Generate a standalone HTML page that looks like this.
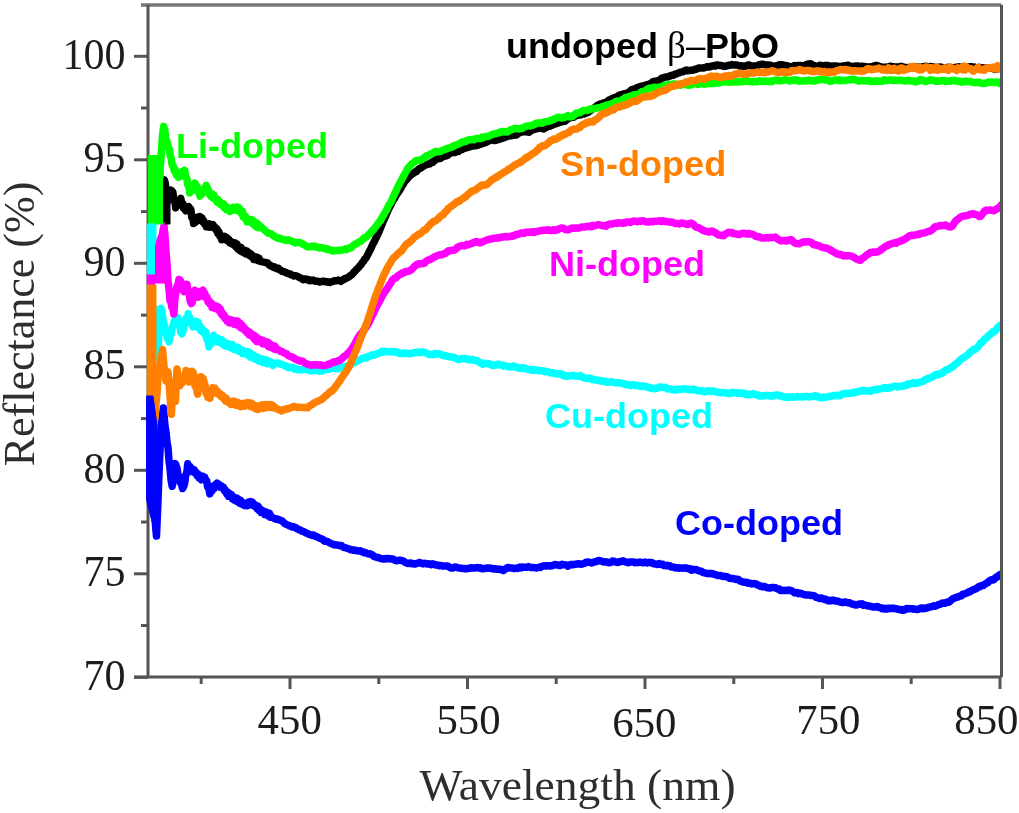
<!DOCTYPE html>
<html><head><meta charset="utf-8"><style>
html,body{margin:0;padding:0;background:#fff;}
svg{display:block;filter:blur(0.45px);}
.ser{font-family:"Liberation Serif",serif;fill:#1c1c1c;}
.lab{font-family:"Liberation Sans",sans-serif;font-weight:bold;}
</style></head><body>
<svg width="1019" height="813" viewBox="0 0 1019 813">
<rect width="1019" height="813" fill="#fff"/>
<defs><clipPath id="pc"><rect x="148" y="5" width="852" height="672"/></clipPath><clipPath id="pc2"><rect x="146" y="5" width="30" height="672"/></clipPath></defs>
<g fill="none" stroke-width="7.5" stroke-linejoin="round" stroke-linecap="round" clip-path="url(#pc)">
<path d="M150.0 451.9 L150.9 461.2 L151.8 476.0 L152.7 485.0 L153.6 499.7 L154.5 509.0 L155.5 525.3 L156.5 536.1 L158.0 500.8 L159.0 473.6 L160.0 450.7 L161.5 418.3 L162.4 415.8 L163.4 408.0 L165.0 426.0 L166.0 432.1 L167.0 442.2 L168.0 447.5 L169.0 460.7 L170.0 468.1 L171.1 480.3 L172.2 486.2 L173.2 481.3 L174.3 469.9 L175.3 463.6 L177.0 468.2 L178.2 475.7 L179.5 477.1 L180.5 482.9 L181.5 484.3 L182.6 488.5 L183.7 486.5 L184.7 483.1 L185.8 475.0 L186.8 472.4 L187.8 463.7 L188.9 467.6 L189.9 466.4 L191.0 471.4 L192.0 468.7 L193.1 472.0 L194.1 469.7 L195.1 472.7 L196.1 472.4 L197.0 475.6 L198.0 474.0 L199.1 478.1 L200.3 476.6 L201.4 479.8 L202.4 476.2 L203.5 479.4 L204.6 477.1 L205.6 479.8 L206.7 480.8 L207.7 487.2 L208.8 488.2 L209.8 493.9 L210.9 490.0 L211.9 491.0 L213.0 486.2 L214.0 488.6 L215.1 484.9 L216.1 486.7 L217.1 483.2 L218.1 486.1 L219.2 484.6 L220.2 487.2 L221.3 485.9 L222.3 487.9 L223.4 487.4 L224.4 490.5 L225.4 490.1 L226.5 493.8 L227.6 492.0 L228.6 496.3 L229.5 493.4 L230.4 496.5 L231.4 494.6 L232.3 498.6 L233.2 496.6 L234.1 499.9 L235.1 497.8 L236.0 500.8 L236.9 498.0 L237.8 501.7 L238.8 499.4 L239.7 503.0 L240.6 500.2 L241.6 503.9 L242.5 502.2 L243.4 504.9 L244.4 503.7 L245.3 505.7 L246.4 503.7 L247.4 505.6 L248.4 502.0 L249.5 505.0 L250.6 501.5 L251.6 504.4 L252.5 502.2 L253.5 505.4 L254.4 504.3 L255.4 506.7 L256.3 505.4 L257.3 508.9 L258.2 506.2 L259.2 510.3 L260.1 509.0 L261.1 512.3 L262.0 510.1 L262.9 512.6 L263.9 511.4 L264.8 514.4 L265.7 511.8 L266.7 514.5 L267.6 513.0 L268.5 516.2 L269.5 513.2 L270.4 517.3 L270.4 515.8 L271.6 516.8 L272.8 517.7 L274.0 518.5 L275.2 518.7 L276.4 519.2 L277.6 519.0 L278.8 519.8 L280.0 519.9 L281.2 520.6 L282.4 521.2 L283.6 522.5 L284.8 523.4 L286.0 524.3 L287.2 524.7 L288.4 525.5 L289.6 525.7 L290.8 526.5 L292.0 526.9 L293.2 526.5 L294.4 527.4 L295.6 527.4 L296.8 528.8 L298.0 529.0 L299.2 529.8 L300.4 529.9 L301.6 531.0 L302.8 531.3 L304.0 531.7 L305.2 532.6 L306.4 533.0 L307.6 533.6 L308.8 534.2 L310.0 534.6 L311.2 535.0 L312.4 535.4 L313.6 535.0 L314.8 536.0 L316.0 536.6 L317.2 536.8 L318.4 537.6 L319.6 538.3 L320.8 538.4 L322.0 539.1 L323.2 539.7 L324.4 541.2 L325.6 541.2 L326.8 541.2 L328.0 541.9 L329.2 542.6 L330.4 543.1 L331.6 543.9 L332.8 544.1 L334.0 544.8 L335.2 544.8 L336.4 545.1 L337.6 545.1 L338.8 545.4 L340.0 545.8 L341.2 545.5 L342.4 546.5 L343.6 547.3 L344.8 547.6 L346.0 547.9 L347.2 548.4 L348.4 548.6 L349.6 549.2 L350.8 549.8 L352.0 549.8 L353.2 550.3 L354.4 550.1 L355.6 550.2 L356.8 550.8 L358.0 550.8 L359.2 551.1 L360.4 550.8 L361.6 551.7 L362.8 551.7 L364.0 552.8 L365.2 552.6 L366.4 553.0 L367.6 553.6 L368.8 554.1 L370.0 553.7 L371.2 554.5 L372.4 554.9 L373.6 556.2 L374.8 556.7 L376.0 556.9 L377.2 557.6 L378.4 557.6 L379.6 558.0 L380.8 558.6 L382.0 558.7 L383.2 559.1 L384.4 558.6 L385.6 559.0 L386.8 558.5 L388.0 558.5 L389.2 558.8 L390.4 558.7 L391.6 559.1 L392.8 558.9 L394.0 559.5 L395.2 560.4 L396.4 560.8 L397.6 560.6 L398.8 560.3 L400.0 560.2 L401.2 560.4 L402.4 560.9 L403.6 561.2 L404.8 562.1 L406.0 562.9 L407.2 563.2 L408.4 563.6 L409.6 563.0 L410.8 563.1 L412.0 563.8 L413.2 563.5 L414.4 564.0 L415.6 563.9 L416.8 563.4 L418.0 563.3 L419.2 562.6 L420.4 562.7 L421.6 563.4 L422.8 563.9 L424.0 563.3 L425.2 563.4 L426.4 563.8 L427.6 564.1 L428.8 563.7 L430.0 564.3 L431.2 564.7 L432.4 563.8 L433.6 564.1 L434.8 564.7 L436.0 565.0 L437.2 564.9 L438.4 565.5 L439.6 565.7 L440.8 565.4 L442.0 565.9 L443.2 565.9 L444.4 566.0 L445.6 566.0 L446.8 565.9 L448.0 566.2 L449.2 567.0 L450.4 567.7 L451.6 568.1 L452.8 568.1 L454.0 567.4 L455.2 566.9 L456.4 567.1 L457.6 567.7 L458.8 567.9 L460.0 568.2 L461.2 568.2 L462.4 568.4 L463.6 568.4 L464.8 568.8 L466.0 568.6 L467.2 568.8 L468.4 568.4 L469.6 568.2 L470.8 567.7 L472.0 568.0 L473.2 567.9 L474.4 568.1 L475.6 567.7 L476.8 567.7 L478.0 567.6 L479.2 568.2 L480.4 567.7 L481.6 568.7 L482.8 568.7 L484.0 568.5 L485.2 568.4 L486.4 568.1 L487.6 568.0 L488.8 568.2 L490.0 568.1 L491.2 568.3 L492.4 568.8 L493.6 569.0 L494.8 568.7 L496.0 569.0 L497.2 569.3 L498.4 569.1 L499.6 569.5 L500.8 569.3 L502.0 569.6 L503.2 570.5 L504.4 569.5 L505.6 569.0 L506.8 567.9 L508.0 567.4 L509.2 567.7 L510.4 568.1 L511.6 568.0 L512.8 568.1 L514.0 568.7 L515.2 568.4 L516.4 568.0 L517.6 568.4 L518.8 568.0 L520.0 567.1 L521.2 567.9 L522.4 567.1 L523.6 567.2 L524.8 567.3 L526.0 567.3 L527.2 567.2 L528.4 566.6 L529.6 567.1 L530.8 567.5 L532.0 567.5 L533.2 567.4 L534.4 567.8 L535.6 567.8 L536.8 568.0 L538.0 567.4 L539.2 567.3 L540.4 567.6 L541.6 566.5 L542.8 566.1 L544.0 566.1 L545.2 565.8 L546.4 566.0 L547.6 565.7 L548.8 565.7 L550.0 566.0 L551.2 565.8 L552.4 565.7 L553.6 565.1 L554.8 564.5 L556.0 564.8 L557.2 565.0 L558.4 565.1 L559.6 565.6 L560.8 565.2 L562.0 564.3 L563.2 564.7 L564.4 564.7 L565.6 564.9 L566.8 565.3 L568.0 566.2 L569.2 565.2 L570.4 564.6 L571.6 564.6 L572.8 564.7 L574.0 564.5 L575.2 564.3 L576.4 564.1 L577.6 564.0 L578.8 563.7 L580.0 564.1 L581.2 564.2 L582.4 564.1 L583.6 563.4 L584.8 563.2 L586.0 562.3 L587.2 562.2 L588.4 562.0 L589.6 562.4 L590.8 562.8 L592.0 562.9 L593.2 562.3 L594.4 562.1 L595.6 561.4 L596.8 561.6 L598.0 560.7 L599.2 560.4 L600.4 560.9 L601.6 561.1 L602.8 561.8 L604.0 562.0 L605.2 561.8 L606.4 561.9 L607.6 562.2 L608.8 562.7 L610.0 562.6 L611.2 562.3 L612.4 561.1 L613.6 561.2 L614.8 561.5 L616.0 562.1 L617.2 562.4 L618.4 562.3 L619.6 561.5 L620.8 561.6 L622.0 561.1 L623.2 560.8 L624.4 561.6 L625.6 561.9 L626.8 562.3 L628.0 562.7 L629.2 562.2 L630.4 561.9 L631.6 561.9 L632.8 562.0 L634.0 562.0 L635.2 562.8 L636.4 562.4 L637.6 562.6 L638.8 562.5 L640.0 562.1 L641.2 562.4 L642.4 562.7 L643.6 562.7 L644.8 562.1 L646.0 562.5 L647.2 562.9 L648.4 562.4 L649.6 562.7 L650.8 562.4 L652.0 562.7 L653.2 563.6 L654.4 563.9 L655.6 563.9 L656.8 564.4 L658.0 564.3 L659.2 563.6 L660.4 564.4 L661.6 564.2 L662.8 564.3 L664.0 565.5 L665.2 565.6 L666.4 565.7 L667.6 565.3 L668.8 565.9 L670.0 565.8 L671.2 567.0 L672.4 566.9 L673.6 567.1 L674.8 567.8 L676.0 567.5 L677.2 568.1 L678.4 567.7 L679.6 568.3 L680.8 567.9 L682.0 568.1 L683.2 568.2 L684.4 567.9 L685.6 568.3 L686.8 567.9 L688.0 568.7 L689.2 569.0 L690.4 568.8 L691.6 570.2 L692.8 569.8 L694.0 569.4 L695.2 569.8 L696.4 569.6 L697.6 570.2 L698.8 570.7 L700.0 571.1 L701.2 571.2 L702.4 572.2 L703.6 572.6 L704.8 572.9 L706.0 573.3 L707.2 573.4 L708.4 573.7 L709.6 573.4 L710.8 573.7 L712.0 573.5 L713.2 573.9 L714.4 574.5 L715.6 574.6 L716.8 575.2 L718.0 575.5 L719.2 575.5 L720.4 575.6 L721.6 576.0 L722.8 576.2 L724.0 576.6 L725.2 576.4 L726.4 576.8 L727.6 577.0 L728.8 577.7 L730.0 578.4 L731.2 578.6 L732.4 578.4 L733.6 578.8 L734.8 579.0 L736.0 579.4 L737.2 579.3 L738.4 579.5 L739.6 580.4 L740.8 581.4 L742.0 581.6 L743.2 582.1 L744.4 582.2 L745.6 582.4 L746.8 582.3 L748.0 583.2 L749.2 583.0 L750.4 583.4 L751.6 583.9 L752.8 583.7 L754.0 583.6 L755.2 584.0 L756.4 584.1 L757.6 585.1 L758.8 585.3 L760.0 586.2 L761.2 586.2 L762.4 586.7 L763.6 586.5 L764.8 586.5 L766.0 587.2 L767.2 587.6 L768.4 588.0 L769.6 588.1 L770.8 587.7 L772.0 587.5 L773.2 587.5 L774.4 587.6 L775.6 587.8 L776.8 588.5 L778.0 589.0 L779.2 589.1 L780.4 590.4 L781.6 590.0 L782.8 590.5 L784.0 590.6 L785.2 590.5 L786.4 590.2 L787.6 590.6 L788.8 589.9 L790.0 590.4 L791.2 590.4 L792.4 591.3 L793.6 592.0 L794.8 592.9 L796.0 592.7 L797.2 592.6 L798.4 593.7 L799.6 593.1 L800.8 593.4 L802.0 593.8 L803.2 594.4 L804.4 594.6 L805.6 595.0 L806.8 595.1 L808.0 595.1 L809.2 594.9 L810.4 595.5 L811.6 595.5 L812.8 595.6 L814.0 595.7 L815.2 596.5 L816.4 597.4 L817.6 597.7 L818.8 598.1 L820.0 598.5 L821.2 598.0 L822.4 598.3 L823.6 598.9 L824.8 599.7 L826.0 599.3 L827.2 600.1 L828.4 600.9 L829.6 600.7 L830.8 600.2 L832.0 600.7 L833.2 600.1 L834.4 600.7 L835.6 601.0 L836.8 600.9 L838.0 601.1 L839.2 601.9 L840.4 602.1 L841.6 602.4 L842.8 602.5 L844.0 602.3 L845.2 601.9 L846.4 602.4 L847.6 602.8 L848.8 602.7 L850.0 603.0 L851.2 603.7 L852.4 604.1 L853.6 604.3 L854.8 604.8 L856.0 605.1 L857.2 604.8 L858.4 604.3 L859.6 604.0 L860.8 604.1 L862.0 603.8 L863.2 605.1 L864.4 604.7 L865.6 605.3 L866.8 605.7 L868.0 605.8 L869.2 606.1 L870.4 606.2 L871.6 606.6 L872.8 607.0 L874.0 607.1 L875.2 606.7 L876.4 607.0 L877.6 606.6 L878.8 607.4 L880.0 607.8 L881.2 607.8 L882.4 608.8 L883.6 608.3 L884.8 609.0 L886.0 608.3 L887.2 609.0 L888.4 608.3 L889.6 608.6 L890.8 608.2 L892.0 608.5 L893.2 608.2 L894.4 608.5 L895.6 608.8 L896.8 608.7 L898.0 609.2 L899.2 609.6 L900.4 609.6 L901.6 610.2 L902.8 609.5 L904.0 610.2 L905.2 609.6 L906.4 608.6 L907.6 608.7 L908.8 608.6 L910.0 608.7 L911.2 608.8 L912.4 608.8 L913.6 609.2 L914.8 608.9 L916.0 609.4 L917.2 609.4 L918.4 609.3 L919.6 608.8 L920.8 608.1 L922.0 608.1 L923.2 608.8 L924.4 608.1 L925.6 608.3 L926.8 608.0 L928.0 607.5 L929.2 607.3 L930.4 606.9 L931.6 606.7 L932.8 606.3 L934.0 605.8 L935.2 606.2 L936.4 605.8 L937.6 605.0 L938.8 604.5 L940.0 604.3 L941.2 603.7 L942.4 602.9 L943.6 603.2 L944.8 603.3 L946.0 602.5 L947.2 602.1 L948.4 602.3 L949.6 601.7 L950.8 600.4 L952.0 599.4 L953.2 598.5 L954.4 598.2 L955.6 597.5 L956.8 597.3 L958.0 597.1 L959.2 596.2 L960.4 596.1 L961.6 595.7 L962.8 594.2 L964.0 594.2 L965.2 593.6 L966.4 593.1 L967.6 592.7 L968.8 591.8 L970.0 591.7 L971.2 590.8 L972.4 590.0 L973.6 589.8 L974.8 589.0 L976.0 588.8 L977.2 587.8 L978.4 586.8 L979.6 586.8 L980.8 585.8 L982.0 585.5 L983.2 585.5 L984.4 584.5 L985.6 583.9 L986.8 582.9 L988.0 582.6 L989.2 581.0 L990.4 580.3 L991.6 579.8 L992.8 580.1 L994.0 579.4 L995.2 578.1 L996.4 577.0 L997.6 576.9 L998.8 575.3 L1000.0 574.7" stroke="#0000ff"/>
<path d="M156.0 310.0 L156.8 356.8 L157.6 310.0 L158.4 350.4 L159.2 310.0 L161.0 308.4 L162.0 311.4 L163.0 320.1 L164.0 323.7 L165.0 331.7 L166.0 330.8 L167.0 337.6 L168.0 336.3 L169.0 341.7 L170.0 335.3 L171.0 334.5 L172.0 327.8 L173.0 325.8 L174.0 321.8 L175.0 322.2 L176.0 316.8 L177.0 317.2 L178.0 317.9 L178.9 325.0 L179.9 325.3 L180.8 332.1 L181.8 333.8 L182.9 331.9 L183.9 325.2 L185.0 323.8 L186.1 318.3 L187.1 319.3 L188.2 313.8 L189.2 319.2 L190.1 318.0 L191.1 323.2 L192.0 321.3 L193.0 326.9 L194.0 323.4 L195.0 325.4 L196.0 321.2 L197.0 323.4 L198.0 322.2 L199.0 328.0 L200.0 326.1 L201.0 330.7 L201.9 328.6 L202.9 332.1 L203.8 330.3 L204.8 334.5 L205.7 332.0 L206.8 339.0 L207.9 340.5 L209.0 346.9 L209.9 342.1 L210.9 344.0 L211.8 338.1 L212.8 339.0 L213.7 335.3 L214.8 338.3 L215.9 338.0 L217.0 341.4 L217.9 338.3 L218.9 342.3 L219.8 339.9 L220.8 342.0 L221.7 339.8 L222.8 344.1 L223.8 341.9 L224.9 345.8 L226.0 344.1 L227.1 346.2 L228.1 343.7 L229.2 347.1 L230.2 344.3 L231.3 346.9 L232.3 344.5 L233.2 348.9 L234.2 346.4 L235.1 349.4 L236.1 347.2 L237.1 349.8 L238.0 347.2 L239.0 351.3 L239.9 349.4 L240.9 352.0 L241.9 350.1 L242.9 353.7 L243.9 350.8 L244.9 353.7 L245.9 351.6 L246.9 354.0 L247.9 351.6 L248.9 355.7 L249.9 352.5 L250.9 357.2 L251.9 354.2 L252.9 357.9 L253.9 355.2 L254.9 358.8 L255.9 356.3 L256.9 359.6 L257.9 357.5 L258.9 361.1 L259.9 358.8 L261.0 360.7 L262.0 359.0 L263.0 362.5 L264.0 359.9 L265.0 362.2 L266.0 359.8 L267.0 363.6 L268.0 361.0 L268.9 363.3 L269.9 361.3 L270.9 363.9 L271.9 362.5 L272.9 365.4 L272.9 364.0 L274.1 363.6 L275.3 363.6 L276.5 363.3 L277.7 363.0 L278.9 363.5 L280.1 363.8 L281.3 364.4 L282.5 364.9 L283.7 365.2 L284.9 365.8 L286.1 366.3 L287.3 366.9 L288.5 367.8 L289.7 367.3 L290.9 367.2 L292.1 367.6 L293.3 367.6 L294.5 369.1 L295.7 368.7 L296.9 369.0 L298.1 369.9 L299.3 369.6 L300.5 369.8 L301.7 369.7 L302.9 369.5 L304.1 369.3 L305.3 368.7 L306.5 369.3 L307.7 369.7 L308.9 370.4 L310.1 370.5 L311.3 370.8 L312.5 370.2 L313.7 370.5 L314.9 370.4 L316.1 369.8 L317.3 370.0 L318.5 370.5 L319.7 371.2 L320.9 370.6 L322.1 371.0 L323.3 369.9 L324.5 369.5 L325.7 369.4 L326.9 369.3 L328.1 369.3 L329.3 369.2 L330.5 368.3 L331.7 368.2 L332.9 368.2 L334.1 368.1 L335.3 368.6 L336.5 368.8 L337.7 368.8 L338.9 368.2 L340.1 367.8 L341.3 367.9 L342.5 367.1 L343.7 367.1 L344.9 366.9 L346.1 366.3 L347.3 366.2 L348.5 365.4 L349.7 365.4 L350.9 364.6 L352.1 363.5 L353.3 362.5 L354.5 362.1 L355.7 361.9 L356.9 361.1 L358.1 360.5 L359.3 360.0 L360.5 359.4 L361.7 358.6 L362.9 358.5 L364.1 357.9 L365.3 357.3 L366.5 358.0 L367.7 356.9 L368.9 356.4 L370.1 356.1 L371.3 355.1 L372.5 354.7 L373.7 355.2 L374.9 354.7 L376.1 354.2 L377.3 353.7 L378.5 353.4 L379.7 352.6 L380.9 352.6 L382.1 351.3 L383.3 351.9 L384.5 351.3 L385.7 351.3 L386.9 351.7 L388.1 351.7 L389.3 351.8 L390.5 351.9 L391.7 351.5 L392.9 351.6 L394.1 352.0 L395.3 351.6 L396.5 352.0 L397.7 352.5 L398.9 353.2 L400.1 353.3 L401.3 353.6 L402.5 353.0 L403.7 353.4 L404.9 353.3 L406.1 353.0 L407.3 353.6 L408.5 353.8 L409.7 353.8 L410.9 353.6 L412.1 353.1 L413.3 353.1 L414.5 352.6 L415.7 352.2 L416.9 352.2 L418.1 352.2 L419.3 352.7 L420.5 352.4 L421.7 351.7 L422.9 352.1 L424.1 352.3 L425.3 352.4 L426.5 353.2 L427.7 353.7 L428.9 354.5 L430.1 354.6 L431.3 354.6 L432.5 354.4 L433.7 354.4 L434.9 353.4 L436.1 354.2 L437.3 353.4 L438.5 353.8 L439.7 354.0 L440.9 354.6 L442.1 354.9 L443.3 355.7 L444.5 355.6 L445.7 355.5 L446.9 356.2 L448.1 356.4 L449.3 356.5 L450.5 357.0 L451.7 356.9 L452.9 357.2 L454.1 357.5 L455.3 358.2 L456.5 358.6 L457.7 359.4 L458.9 359.6 L460.1 359.1 L461.3 358.6 L462.5 358.8 L463.7 358.5 L464.9 358.5 L466.1 358.7 L467.3 359.5 L468.5 359.3 L469.7 359.9 L470.9 359.7 L472.1 359.3 L473.3 360.1 L474.5 360.6 L475.7 360.2 L476.9 360.7 L478.1 361.5 L479.3 362.1 L480.5 363.1 L481.7 363.1 L482.9 364.3 L484.1 363.4 L485.3 363.6 L486.5 363.6 L487.7 363.4 L488.9 363.6 L490.1 364.3 L491.3 364.8 L492.5 365.4 L493.7 365.0 L494.9 365.2 L496.1 364.8 L497.3 365.0 L498.5 364.1 L499.7 364.6 L500.9 364.9 L502.1 365.2 L503.3 365.9 L504.5 365.5 L505.7 365.9 L506.9 366.2 L508.1 366.7 L509.3 366.6 L510.5 367.1 L511.7 366.8 L512.9 366.1 L514.1 366.1 L515.3 367.1 L516.5 367.6 L517.7 367.4 L518.9 368.3 L520.1 368.1 L521.3 368.4 L522.5 367.7 L523.7 367.7 L524.9 368.3 L526.1 368.6 L527.3 369.4 L528.5 369.6 L529.7 369.5 L530.9 370.1 L532.1 369.6 L533.3 370.3 L534.5 370.0 L535.7 369.8 L536.9 370.3 L538.1 370.2 L539.3 370.7 L540.5 370.7 L541.7 370.8 L542.9 370.9 L544.1 371.0 L545.3 371.8 L546.5 371.4 L547.7 371.6 L548.9 372.1 L550.1 372.9 L551.3 372.7 L552.5 372.8 L553.7 373.0 L554.9 373.5 L556.1 373.6 L557.3 374.1 L558.5 373.7 L559.7 374.0 L560.9 373.7 L562.1 374.4 L563.3 375.7 L564.5 375.3 L565.7 375.7 L566.9 376.2 L568.1 375.7 L569.3 375.9 L570.5 375.7 L571.7 375.8 L572.9 375.2 L574.1 376.1 L575.3 375.9 L576.5 376.1 L577.7 376.2 L578.9 376.1 L580.1 375.6 L581.3 376.7 L582.5 376.8 L583.7 377.9 L584.9 378.1 L586.1 378.2 L587.3 378.2 L588.5 378.3 L589.7 378.1 L590.9 378.5 L592.1 379.5 L593.3 379.3 L594.5 379.8 L595.7 380.0 L596.9 380.2 L598.1 380.1 L599.3 380.8 L600.5 380.8 L601.7 381.0 L602.9 381.0 L604.1 381.3 L605.3 381.4 L606.5 382.2 L607.7 382.3 L608.9 382.2 L610.1 381.8 L611.3 381.8 L612.5 382.0 L613.7 382.3 L614.9 382.7 L616.1 382.7 L617.3 382.8 L618.5 382.8 L619.7 382.8 L620.9 383.2 L622.1 383.4 L623.3 383.8 L624.5 383.8 L625.7 384.5 L626.9 384.8 L628.1 384.8 L629.3 385.0 L630.5 385.6 L631.7 384.9 L632.9 384.8 L634.1 384.7 L635.3 385.4 L636.5 385.4 L637.7 385.6 L638.9 385.6 L640.1 386.4 L641.3 386.2 L642.5 385.8 L643.7 386.6 L644.9 386.3 L646.1 386.8 L647.3 386.8 L648.5 387.4 L649.7 387.5 L650.9 388.2 L652.1 388.2 L653.3 388.6 L654.5 388.7 L655.7 388.2 L656.9 388.2 L658.1 387.7 L659.3 387.1 L660.5 387.1 L661.7 387.2 L662.9 387.5 L664.1 387.6 L665.3 387.2 L666.5 388.3 L667.7 389.0 L668.9 388.7 L670.1 388.9 L671.3 389.5 L672.5 389.5 L673.7 389.9 L674.9 389.5 L676.1 390.0 L677.3 389.8 L678.5 389.1 L679.7 389.6 L680.9 389.2 L682.1 389.1 L683.3 389.0 L684.5 388.8 L685.7 388.9 L686.9 389.1 L688.1 389.4 L689.3 389.6 L690.5 389.8 L691.7 389.7 L692.9 389.5 L694.1 389.2 L695.3 389.9 L696.5 390.3 L697.7 390.7 L698.9 390.8 L700.1 390.8 L701.3 390.9 L702.5 390.7 L703.7 391.7 L704.9 391.9 L706.1 391.5 L707.3 391.0 L708.5 391.1 L709.7 390.7 L710.9 391.4 L712.1 391.0 L713.3 391.1 L714.5 391.5 L715.7 391.7 L716.9 392.2 L718.1 392.2 L719.3 392.5 L720.5 392.4 L721.7 392.9 L722.9 392.4 L724.1 392.4 L725.3 393.0 L726.5 392.9 L727.7 393.2 L728.9 393.4 L730.1 393.5 L731.3 393.0 L732.5 392.3 L733.7 392.9 L734.9 392.6 L736.1 392.8 L737.3 393.3 L738.5 393.0 L739.7 393.2 L740.9 393.1 L742.1 393.1 L743.3 393.2 L744.5 393.4 L745.7 394.4 L746.9 393.9 L748.1 394.8 L749.3 394.7 L750.5 394.3 L751.7 394.2 L752.9 393.6 L754.1 394.3 L755.3 394.6 L756.5 395.1 L757.7 394.8 L758.9 395.8 L760.1 396.1 L761.3 395.7 L762.5 396.0 L763.7 395.9 L764.9 395.3 L766.1 395.4 L767.3 395.6 L768.5 395.4 L769.7 395.7 L770.9 396.2 L772.1 395.8 L773.3 395.9 L774.5 395.7 L775.7 395.0 L776.9 394.9 L778.1 395.0 L779.3 395.7 L780.5 395.6 L781.7 396.2 L782.9 396.7 L784.1 396.7 L785.3 397.2 L786.5 397.2 L787.7 397.0 L788.9 397.4 L790.1 397.0 L791.3 397.1 L792.5 396.8 L793.7 397.3 L794.9 397.1 L796.1 396.9 L797.3 396.6 L798.5 396.7 L799.7 396.9 L800.9 396.7 L802.1 397.0 L803.3 396.6 L804.5 396.4 L805.7 396.4 L806.9 396.5 L808.1 396.9 L809.3 397.1 L810.5 396.4 L811.7 396.6 L812.9 396.4 L814.1 396.4 L815.3 395.6 L816.5 396.4 L817.7 396.2 L818.9 397.5 L820.1 397.4 L821.3 397.9 L822.5 397.7 L823.7 397.1 L824.9 397.3 L826.1 397.1 L827.3 396.7 L828.5 396.5 L829.7 396.5 L830.9 396.2 L832.1 396.0 L833.3 395.5 L834.5 395.6 L835.7 395.4 L836.9 395.4 L838.1 395.7 L839.3 395.3 L840.5 395.4 L841.7 394.3 L842.9 394.1 L844.1 393.3 L845.3 393.4 L846.5 393.3 L847.7 393.4 L848.9 393.3 L850.1 393.3 L851.3 393.3 L852.5 392.4 L853.7 392.8 L854.9 392.2 L856.1 391.9 L857.3 392.1 L858.5 391.9 L859.7 391.4 L860.9 390.7 L862.1 390.8 L863.3 390.3 L864.5 391.0 L865.7 390.7 L866.9 390.9 L868.1 390.9 L869.3 391.3 L870.5 391.3 L871.7 390.5 L872.9 390.2 L874.1 389.6 L875.3 390.0 L876.5 390.1 L877.7 389.2 L878.9 389.2 L880.1 388.9 L881.3 388.6 L882.5 388.2 L883.7 388.0 L884.9 387.5 L886.1 388.0 L887.3 388.3 L888.5 388.2 L889.7 387.3 L890.9 387.6 L892.1 387.0 L893.3 386.6 L894.5 386.1 L895.7 386.3 L896.9 386.7 L898.1 387.0 L899.3 386.2 L900.5 386.5 L901.7 386.4 L902.9 386.0 L904.1 385.9 L905.3 385.1 L906.5 385.2 L907.7 384.1 L908.9 384.2 L910.1 383.8 L911.3 383.6 L912.5 383.2 L913.7 382.5 L914.9 383.5 L916.1 383.2 L917.3 383.0 L918.5 382.6 L919.7 382.3 L920.9 381.9 L922.1 381.6 L923.3 381.3 L924.5 380.1 L925.7 379.3 L926.9 379.3 L928.1 378.3 L929.3 378.1 L930.5 377.6 L931.7 377.2 L932.9 376.6 L934.1 375.7 L935.3 374.9 L936.5 374.5 L937.7 374.3 L938.9 374.7 L940.1 373.5 L941.3 373.5 L942.5 372.9 L943.7 371.6 L944.9 370.8 L946.1 369.8 L947.3 369.6 L948.5 369.4 L949.7 368.3 L950.9 367.8 L952.1 366.9 L953.3 366.0 L954.5 365.2 L955.7 363.9 L956.9 363.5 L958.1 362.0 L959.3 360.8 L960.5 359.8 L961.7 358.8 L962.9 357.8 L964.1 357.3 L965.3 356.7 L966.5 355.6 L967.7 355.1 L968.9 354.0 L970.1 352.1 L971.3 351.4 L972.5 350.5 L973.7 349.3 L974.9 349.3 L976.1 348.7 L977.3 347.6 L978.5 345.9 L979.7 344.7 L980.9 342.8 L982.1 342.1 L983.3 340.9 L984.5 339.4 L985.7 338.3 L986.9 337.9 L988.1 335.9 L989.3 335.4 L990.5 334.0 L991.7 333.3 L992.9 331.7 L994.1 331.4 L995.3 330.8 L996.5 329.2 L997.7 327.7 L998.9 326.3 L1000.1 325.4" stroke="#00ffff"/>
<path d="M160.0 251.5 L161.0 241.9 L162.0 238.6 L163.0 230.5 L164.0 225.9 L165.0 236.2 L166.0 251.7 L167.0 264.1 L168.0 281.3 L169.0 288.4 L170.0 301.0 L170.9 301.3 L171.9 307.7 L172.9 308.0 L173.8 314.0 L174.9 298.9 L176.0 292.1 L177.0 286.0 L178.0 285.2 L179.0 279.5 L180.0 279.9 L181.0 282.0 L182.0 288.4 L183.0 290.3 L184.0 291.5 L185.0 288.0 L186.0 289.7 L187.0 284.4 L188.1 292.3 L189.2 294.4 L190.2 300.9 L191.3 303.6 L192.2 302.3 L193.2 297.3 L194.1 295.9 L195.0 290.2 L196.0 294.6 L197.0 293.0 L198.0 297.2 L199.0 296.8 L200.0 296.5 L201.0 291.4 L202.0 291.6 L202.9 290.1 L203.8 294.2 L204.8 293.3 L205.7 297.8 L206.8 296.9 L207.9 301.7 L209.0 300.6 L210.0 304.4 L211.0 302.8 L212.0 307.5 L212.9 304.6 L213.9 307.3 L214.8 305.5 L215.7 308.6 L216.6 306.1 L217.6 308.9 L218.5 307.1 L219.4 310.8 L220.3 308.9 L221.2 313.8 L222.1 312.5 L223.0 316.0 L224.0 315.0 L225.0 318.5 L226.1 317.6 L227.1 321.1 L228.1 319.8 L229.1 322.7 L230.0 319.5 L231.0 322.8 L231.9 320.1 L232.9 322.9 L233.9 321.2 L234.8 324.4 L235.8 320.8 L236.7 324.6 L237.7 321.1 L238.8 326.0 L239.8 322.9 L240.9 327.8 L242.0 324.9 L243.1 329.0 L244.1 327.4 L245.2 330.7 L246.2 329.9 L247.3 332.9 L248.3 331.2 L249.2 334.8 L250.2 332.7 L251.1 335.7 L252.1 334.1 L253.1 337.5 L254.0 335.3 L255.0 339.6 L255.9 336.6 L256.9 341.6 L257.9 338.4 L258.8 341.4 L259.8 339.2 L260.7 342.2 L261.7 340.0 L262.7 343.7 L263.6 340.5 L264.6 344.1 L265.5 342.0 L266.5 344.2 L267.4 342.0 L268.4 346.3 L269.4 343.3 L270.3 347.2 L271.2 344.8 L272.2 347.9 L273.1 345.5 L274.1 349.0 L275.1 346.3 L276.0 349.4 L276.0 348.9 L277.2 349.0 L278.4 349.9 L279.6 350.4 L280.8 351.5 L282.0 351.6 L283.2 352.3 L284.4 353.1 L285.6 353.6 L286.8 353.9 L288.0 355.4 L289.2 356.1 L290.4 356.4 L291.6 356.6 L292.8 357.7 L294.0 358.0 L295.2 359.0 L296.4 359.7 L297.6 360.0 L298.8 360.5 L300.0 361.0 L301.2 361.1 L302.4 361.0 L303.6 362.1 L304.8 362.9 L306.0 363.4 L307.2 364.2 L308.4 364.4 L309.6 364.7 L310.8 365.3 L312.0 365.0 L313.2 364.7 L314.4 365.0 L315.6 364.6 L316.8 365.0 L318.0 364.9 L319.2 364.8 L320.4 365.2 L321.6 365.0 L322.8 365.8 L324.0 365.4 L325.2 365.5 L326.4 365.1 L327.6 364.7 L328.8 363.9 L330.0 363.9 L331.2 363.2 L332.4 362.6 L333.6 361.8 L334.8 362.3 L336.0 361.6 L337.2 361.3 L338.4 360.6 L339.6 360.7 L340.8 359.5 L342.0 358.6 L343.2 357.3 L344.4 356.2 L345.6 355.7 L346.8 354.4 L348.0 353.2 L349.2 352.1 L350.4 350.7 L351.6 349.2 L352.8 347.1 L354.0 345.1 L355.2 343.1 L356.4 340.6 L357.6 338.4 L358.8 336.7 L360.0 334.7 L361.2 333.3 L362.4 332.1 L363.6 330.4 L364.8 328.8 L366.0 327.5 L367.2 325.5 L368.4 323.7 L369.6 321.1 L370.8 318.6 L372.0 315.9 L373.2 313.9 L374.4 311.2 L375.6 308.7 L376.8 306.1 L378.0 304.0 L379.2 301.7 L380.4 299.7 L381.6 297.2 L382.8 294.8 L384.0 293.2 L385.2 291.3 L386.4 289.7 L387.6 287.8 L388.8 286.0 L390.0 284.1 L391.2 282.1 L392.4 280.2 L393.6 279.0 L394.8 278.1 L396.0 278.0 L397.2 276.5 L398.4 275.6 L399.6 274.7 L400.8 274.1 L402.0 273.1 L403.2 273.3 L404.4 272.4 L405.6 271.4 L406.8 271.7 L408.0 271.4 L409.2 270.8 L410.4 270.4 L411.6 269.5 L412.8 268.2 L414.0 266.9 L415.2 265.9 L416.4 264.8 L417.6 264.3 L418.8 263.7 L420.0 263.9 L421.2 263.4 L422.4 263.7 L423.6 263.5 L424.8 262.8 L426.0 261.3 L427.2 260.7 L428.4 259.9 L429.6 259.7 L430.8 259.1 L432.0 258.4 L433.2 257.8 L434.4 256.8 L435.6 256.5 L436.8 255.8 L438.0 255.4 L439.2 255.0 L440.4 254.8 L441.6 254.7 L442.8 254.2 L444.0 253.7 L445.2 253.5 L446.4 252.3 L447.6 251.3 L448.8 250.7 L450.0 250.9 L451.2 250.3 L452.4 250.3 L453.6 250.3 L454.8 249.8 L456.0 249.0 L457.2 247.5 L458.4 247.2 L459.6 246.2 L460.8 246.1 L462.0 245.4 L463.2 245.6 L464.4 245.9 L465.6 245.4 L466.8 244.4 L468.0 244.9 L469.2 244.4 L470.4 243.9 L471.6 243.5 L472.8 242.8 L474.0 242.7 L475.2 241.9 L476.4 241.5 L477.6 241.9 L478.8 242.7 L480.0 242.7 L481.2 242.5 L482.4 241.6 L483.6 241.4 L484.8 241.0 L486.0 240.2 L487.2 239.8 L488.4 239.5 L489.6 239.1 L490.8 238.9 L492.0 238.9 L493.2 238.3 L494.4 238.3 L495.6 238.2 L496.8 238.1 L498.0 237.7 L499.2 237.9 L500.4 237.5 L501.6 236.9 L502.8 237.0 L504.0 236.9 L505.2 236.6 L506.4 236.6 L507.6 236.9 L508.8 236.5 L510.0 236.6 L511.2 236.1 L512.4 236.3 L513.6 235.6 L514.8 235.5 L516.0 234.4 L517.2 234.6 L518.4 234.0 L519.6 234.0 L520.8 232.9 L522.0 232.9 L523.2 233.4 L524.4 233.3 L525.6 232.2 L526.8 232.3 L528.0 232.1 L529.2 232.4 L530.4 232.2 L531.6 232.0 L532.8 231.8 L534.0 232.5 L535.2 231.8 L536.4 231.7 L537.6 231.3 L538.8 231.2 L540.0 230.9 L541.2 230.6 L542.4 230.5 L543.6 230.2 L544.8 230.2 L546.0 230.3 L547.2 229.9 L548.4 229.8 L549.6 230.5 L550.8 230.6 L552.0 230.3 L553.2 229.8 L554.4 230.5 L555.6 230.3 L556.8 229.6 L558.0 229.7 L559.2 228.7 L560.4 228.3 L561.6 228.0 L562.8 228.2 L564.0 228.4 L565.2 229.5 L566.4 229.5 L567.6 229.7 L568.8 229.5 L570.0 229.1 L571.2 228.2 L572.4 228.1 L573.6 228.2 L574.8 228.2 L576.0 227.9 L577.2 228.2 L578.4 228.1 L579.6 227.8 L580.8 227.4 L582.0 226.9 L583.2 227.0 L584.4 227.1 L585.6 226.8 L586.8 226.5 L588.0 226.6 L589.2 226.1 L590.4 226.5 L591.6 226.7 L592.8 225.3 L594.0 226.0 L595.2 225.6 L596.4 225.2 L597.6 224.9 L598.8 224.6 L600.0 225.1 L601.2 225.4 L602.4 225.8 L603.6 225.7 L604.8 225.7 L606.0 226.2 L607.2 224.8 L608.4 224.7 L609.6 224.0 L610.8 223.9 L612.0 224.0 L613.2 223.7 L614.4 223.4 L615.6 223.1 L616.8 223.5 L618.0 222.7 L619.2 223.1 L620.4 222.9 L621.6 223.0 L622.8 223.2 L624.0 222.5 L625.2 222.9 L626.4 222.1 L627.6 222.1 L628.8 222.1 L630.0 222.4 L631.2 221.7 L632.4 221.5 L633.6 220.9 L634.8 221.2 L636.0 221.3 L637.2 221.7 L638.4 221.2 L639.6 221.1 L640.8 221.5 L642.0 220.7 L643.2 220.7 L644.4 221.3 L645.6 221.7 L646.8 222.0 L648.0 221.7 L649.2 222.0 L650.4 221.5 L651.6 221.8 L652.8 221.8 L654.0 221.2 L655.2 221.3 L656.4 221.2 L657.6 221.2 L658.8 220.9 L660.0 220.7 L661.2 221.4 L662.4 221.0 L663.6 220.8 L664.8 221.6 L666.0 221.5 L667.2 221.7 L668.4 221.7 L669.6 222.1 L670.8 222.2 L672.0 222.1 L673.2 222.8 L674.4 223.0 L675.6 223.5 L676.8 223.6 L678.0 223.6 L679.2 223.9 L680.4 223.5 L681.6 222.9 L682.8 223.3 L684.0 223.5 L685.2 223.7 L686.4 224.2 L687.6 224.5 L688.8 224.2 L690.0 223.4 L691.2 223.1 L692.4 223.8 L693.6 224.5 L694.8 226.0 L696.0 227.1 L697.2 227.5 L698.4 227.6 L699.6 228.3 L700.8 228.9 L702.0 229.6 L703.2 230.6 L704.4 230.8 L705.6 231.3 L706.8 231.6 L708.0 231.6 L709.2 232.2 L710.4 231.4 L711.6 231.1 L712.8 231.3 L714.0 232.2 L715.2 232.6 L716.4 233.5 L717.6 234.4 L718.8 235.1 L720.0 235.1 L721.2 235.5 L722.4 235.4 L723.6 235.7 L724.8 234.3 L726.0 233.8 L727.2 232.9 L728.4 232.2 L729.6 232.3 L730.8 232.7 L732.0 232.6 L733.2 233.7 L734.4 233.7 L735.6 233.9 L736.8 234.0 L738.0 234.3 L739.2 234.6 L740.4 234.0 L741.6 233.6 L742.8 233.5 L744.0 233.3 L745.2 233.8 L746.4 233.6 L747.6 234.2 L748.8 233.4 L750.0 233.8 L751.2 234.1 L752.4 234.3 L753.6 234.7 L754.8 235.7 L756.0 236.3 L757.2 236.6 L758.4 237.1 L759.6 236.8 L760.8 237.5 L762.0 238.1 L763.2 238.1 L764.4 238.1 L765.6 237.8 L766.8 237.6 L768.0 237.9 L769.2 237.5 L770.4 237.8 L771.6 237.4 L772.8 237.6 L774.0 237.6 L775.2 237.1 L776.4 237.9 L777.6 238.9 L778.8 239.8 L780.0 240.3 L781.2 240.9 L782.4 240.6 L783.6 240.4 L784.8 240.8 L786.0 241.1 L787.2 240.3 L788.4 240.5 L789.6 239.8 L790.8 239.6 L792.0 240.3 L793.2 241.4 L794.4 242.8 L795.6 243.3 L796.8 243.6 L798.0 243.7 L799.2 243.8 L800.4 243.1 L801.6 242.5 L802.8 242.3 L804.0 241.8 L805.2 241.9 L806.4 242.0 L807.6 241.8 L808.8 241.6 L810.0 242.1 L811.2 242.2 L812.4 243.6 L813.6 244.7 L814.8 244.7 L816.0 244.8 L817.2 245.6 L818.4 245.6 L819.6 246.0 L820.8 246.8 L822.0 247.1 L823.2 247.4 L824.4 248.0 L825.6 247.9 L826.8 248.0 L828.0 248.8 L829.2 249.1 L830.4 250.1 L831.6 250.5 L832.8 251.6 L834.0 252.1 L835.2 252.6 L836.4 253.6 L837.6 254.0 L838.8 254.3 L840.0 254.8 L841.2 254.5 L842.4 255.4 L843.6 256.0 L844.8 256.0 L846.0 255.4 L847.2 255.9 L848.4 255.6 L849.6 255.8 L850.8 255.9 L852.0 256.4 L853.2 257.2 L854.4 257.5 L855.6 258.6 L856.8 259.1 L858.0 259.7 L859.2 260.0 L860.4 260.3 L861.6 258.8 L862.8 258.1 L864.0 257.5 L865.2 256.2 L866.4 255.3 L867.6 254.3 L868.8 254.1 L870.0 252.7 L871.2 252.4 L872.4 252.3 L873.6 251.9 L874.8 252.5 L876.0 251.9 L877.2 252.1 L878.4 251.4 L879.6 250.9 L880.8 250.0 L882.0 249.0 L883.2 248.2 L884.4 247.3 L885.6 246.3 L886.8 245.7 L888.0 245.6 L889.2 244.4 L890.4 244.1 L891.6 243.7 L892.8 243.3 L894.0 243.1 L895.2 242.6 L896.4 243.1 L897.6 242.3 L898.8 241.4 L900.0 241.2 L901.2 241.0 L902.4 239.9 L903.6 239.9 L904.8 239.1 L906.0 238.4 L907.2 237.6 L908.4 236.7 L909.6 235.8 L910.8 235.7 L912.0 235.1 L913.2 235.6 L914.4 235.0 L915.6 235.1 L916.8 234.9 L918.0 234.1 L919.2 234.5 L920.4 233.7 L921.6 233.2 L922.8 233.2 L924.0 233.1 L925.2 232.5 L926.4 232.1 L927.6 231.6 L928.8 231.2 L930.0 231.2 L931.2 230.2 L932.4 229.5 L933.6 228.6 L934.8 226.7 L936.0 226.7 L937.2 226.4 L938.4 226.1 L939.6 225.5 L940.8 225.7 L942.0 225.7 L943.2 225.4 L944.4 225.3 L945.6 225.0 L946.8 225.9 L948.0 226.6 L949.2 226.6 L950.4 227.1 L951.6 226.6 L952.8 225.5 L954.0 223.5 L955.2 221.7 L956.4 220.2 L957.6 219.5 L958.8 218.7 L960.0 217.4 L961.2 216.7 L962.4 216.4 L963.6 216.1 L964.8 215.7 L966.0 215.7 L967.2 215.5 L968.4 215.2 L969.6 214.5 L970.8 214.2 L972.0 214.0 L973.2 213.7 L974.4 214.3 L975.6 214.2 L976.8 214.9 L978.0 215.5 L979.2 216.6 L980.4 216.5 L981.6 215.0 L982.8 213.6 L984.0 211.8 L985.2 210.5 L986.4 210.1 L987.6 210.4 L988.8 210.2 L990.0 209.9 L991.2 210.2 L992.4 210.4 L993.6 210.7 L994.8 210.2 L996.0 209.4 L997.2 208.6 L998.4 208.2 L999.6 207.1 L1000.8 205.5" stroke="#ff00ff"/>
<path d="M164.0 215.0 L164.5 185.0 L164.2 179.8 L165.1 182.4 L166.1 191.2 L167.1 192.6 L168.0 200.8 L169.0 194.9 L169.9 195.2 L170.9 190.1 L171.9 190.9 L172.8 192.0 L173.8 199.0 L174.8 200.6 L175.7 207.9 L176.7 204.7 L177.7 205.6 L178.8 201.0 L179.8 202.0 L180.8 198.4 L181.8 204.1 L182.8 203.4 L183.7 208.5 L184.7 208.9 L185.7 210.7 L186.7 207.0 L187.8 210.0 L188.8 206.7 L189.8 208.4 L190.8 209.4 L191.7 217.0 L192.7 216.8 L193.6 223.5 L194.5 221.0 L195.4 222.2 L196.3 218.8 L197.3 220.7 L198.2 217.0 L199.1 219.2 L200.0 216.5 L200.9 220.1 L201.8 217.7 L202.7 221.6 L203.6 220.6 L204.5 223.9 L205.4 223.2 L206.3 226.7 L207.3 224.4 L208.2 226.9 L209.2 223.9 L210.2 227.1 L211.1 225.1 L212.1 226.7 L213.0 224.7 L214.0 227.7 L215.0 227.1 L215.9 229.9 L216.9 228.8 L217.8 233.2 L218.8 231.7 L219.8 235.9 L220.7 235.3 L221.7 239.8 L222.8 236.9 L223.8 239.2 L224.9 236.5 L226.0 239.8 L227.0 237.7 L228.0 241.3 L228.9 239.4 L229.9 243.0 L230.9 241.4 L231.9 243.8 L232.9 242.8 L233.9 245.0 L235.0 242.9 L236.0 246.8 L237.0 244.1 L238.0 249.1 L239.0 246.9 L240.0 250.5 L241.0 247.4 L242.0 251.6 L243.0 250.1 L244.0 252.7 L245.0 250.3 L246.0 253.9 L247.0 251.0 L248.0 254.1 L249.0 252.8 L249.9 255.7 L250.9 253.8 L251.9 256.9 L252.9 255.6 L253.8 259.5 L254.8 256.9 L255.8 259.4 L256.9 257.2 L257.9 260.5 L259.0 258.2 L260.0 261.3 L267.6 262.9 L268.8 264.5 L270.0 265.7 L271.2 265.8 L272.4 266.4 L273.6 267.5 L274.8 267.0 L276.0 268.3 L277.2 268.8 L278.4 268.3 L279.6 269.8 L280.8 270.1 L282.0 271.3 L283.2 271.5 L284.4 271.9 L285.6 272.5 L286.8 273.0 L288.0 273.3 L289.2 274.0 L290.4 274.1 L291.6 275.1 L292.8 275.2 L294.0 275.9 L295.2 275.7 L296.4 275.9 L297.6 276.4 L298.8 277.2 L300.0 277.8 L301.2 278.3 L302.4 279.2 L303.6 279.7 L304.8 279.1 L306.0 279.1 L307.2 279.8 L308.4 279.6 L309.6 280.7 L310.8 280.0 L312.0 280.6 L313.2 280.1 L314.4 280.7 L315.6 281.3 L316.8 281.2 L318.0 281.2 L319.2 282.1 L320.4 281.7 L321.6 281.5 L322.8 281.2 L324.0 281.3 L325.2 281.8 L326.4 281.6 L327.6 282.2 L328.8 282.1 L330.0 282.5 L331.2 281.7 L332.4 281.6 L333.6 281.2 L334.8 280.6 L336.0 280.8 L337.2 280.7 L338.4 280.1 L339.6 280.6 L340.8 281.3 L342.0 280.1 L343.2 279.9 L344.4 278.8 L345.6 278.7 L346.8 277.9 L348.0 277.5 L349.2 276.7 L350.4 275.5 L351.6 274.9 L352.8 273.7 L354.0 272.0 L355.2 271.1 L356.4 269.5 L357.6 268.4 L358.8 267.2 L360.0 265.7 L361.2 264.5 L362.4 262.4 L363.6 261.3 L364.8 258.9 L366.0 258.0 L367.2 255.8 L368.4 253.5 L369.6 250.9 L370.8 248.8 L372.0 245.9 L373.2 243.4 L374.4 241.5 L375.6 238.8 L376.8 236.5 L378.0 234.0 L379.2 231.3 L380.4 228.1 L381.6 225.2 L382.8 222.3 L384.0 219.7 L385.2 217.2 L386.4 213.9 L387.6 211.4 L388.8 208.8 L390.0 206.3 L391.2 204.2 L392.4 201.5 L393.6 199.6 L394.8 197.8 L396.0 195.4 L397.2 193.8 L398.4 191.9 L399.6 190.3 L400.8 188.2 L402.0 185.9 L403.2 184.4 L404.4 181.9 L405.6 180.5 L406.8 179.3 L408.0 177.9 L409.2 176.5 L410.4 175.4 L411.6 174.5 L412.8 173.6 L414.0 173.0 L415.2 171.9 L416.4 171.6 L417.6 170.0 L418.8 169.2 L420.0 168.3 L421.2 167.9 L422.4 166.7 L423.6 166.2 L424.8 165.2 L426.0 164.9 L427.2 164.5 L428.4 163.9 L429.6 163.9 L430.8 162.6 L432.0 162.4 L433.2 162.2 L434.4 160.5 L435.6 159.9 L436.8 159.1 L438.0 158.9 L439.2 158.3 L440.4 158.5 L441.6 157.4 L442.8 156.7 L444.0 156.2 L445.2 155.8 L446.4 155.9 L447.6 155.4 L448.8 154.2 L450.0 153.2 L451.2 152.7 L452.4 152.7 L453.6 151.9 L454.8 152.5 L456.0 152.2 L457.2 151.0 L458.4 151.5 L459.6 150.1 L460.8 149.8 L462.0 149.7 L463.2 148.4 L464.4 148.2 L465.6 148.0 L466.8 147.5 L468.0 147.5 L469.2 146.9 L470.4 146.6 L471.6 146.2 L472.8 146.1 L474.0 145.8 L475.2 145.8 L476.4 145.5 L477.6 144.9 L478.8 145.1 L480.0 144.0 L481.2 144.1 L482.4 143.3 L483.6 143.2 L484.8 142.9 L486.0 142.3 L487.2 141.8 L488.4 140.5 L489.6 140.7 L490.8 139.7 L492.0 139.4 L493.2 139.6 L494.4 140.6 L495.6 140.4 L496.8 139.7 L498.0 139.4 L499.2 139.4 L500.4 138.8 L501.6 138.3 L502.8 138.2 L504.0 137.8 L505.2 137.2 L506.4 136.5 L507.6 136.6 L508.8 135.7 L510.0 135.5 L511.2 135.8 L512.4 135.3 L513.6 135.2 L514.8 135.1 L516.0 135.1 L517.2 134.3 L518.4 133.1 L519.6 132.8 L520.8 131.2 L522.0 131.1 L523.2 131.9 L524.4 131.7 L525.6 131.6 L526.8 131.9 L528.0 132.1 L529.2 132.2 L530.4 131.2 L531.6 130.4 L532.8 129.8 L534.0 129.4 L535.2 129.2 L536.4 128.8 L537.6 128.6 L538.8 128.0 L540.0 128.2 L541.2 128.1 L542.4 128.3 L543.6 129.0 L544.8 128.1 L546.0 127.5 L547.2 127.0 L548.4 126.1 L549.6 126.2 L550.8 125.7 L552.0 125.4 L553.2 124.4 L554.4 124.1 L555.6 124.1 L556.8 123.2 L558.0 123.0 L559.2 122.7 L560.4 121.7 L561.6 121.9 L562.8 121.6 L564.0 121.3 L565.2 121.0 L566.4 120.0 L567.6 118.9 L568.8 118.4 L570.0 117.7 L571.2 117.6 L572.4 116.8 L573.6 117.3 L574.8 116.1 L576.0 115.7 L577.2 115.3 L578.4 115.1 L579.6 114.9 L580.8 114.8 L582.0 114.0 L583.2 114.0 L584.4 114.1 L585.6 113.2 L586.8 112.7 L588.0 112.6 L589.2 111.5 L590.4 110.7 L591.6 109.3 L592.8 108.7 L594.0 108.2 L595.2 107.2 L596.4 106.3 L597.6 105.2 L598.8 104.7 L600.0 104.0 L601.2 104.2 L602.4 103.3 L603.6 103.0 L604.8 102.8 L606.0 102.2 L607.2 101.7 L608.4 100.7 L609.6 99.7 L610.8 99.8 L612.0 98.5 L613.2 98.1 L614.4 97.6 L615.6 97.2 L616.8 96.7 L618.0 96.4 L619.2 95.2 L620.4 95.0 L621.6 94.5 L622.8 94.5 L624.0 93.7 L625.2 93.8 L626.4 93.7 L627.6 92.7 L628.8 92.3 L630.0 91.4 L631.2 90.0 L632.4 89.4 L633.6 89.4 L634.8 88.8 L636.0 88.3 L637.2 87.8 L638.4 87.2 L639.6 86.9 L640.8 86.3 L642.0 86.2 L643.2 86.5 L644.4 85.5 L645.6 85.4 L646.8 84.7 L648.0 85.2 L649.2 83.9 L650.4 83.7 L651.6 83.1 L652.8 81.6 L654.0 81.4 L655.2 81.3 L656.4 81.4 L657.6 80.8 L658.8 80.5 L660.0 79.8 L661.2 78.7 L662.4 77.9 L663.6 77.8 L664.8 77.2 L666.0 77.1 L667.2 76.8 L668.4 76.7 L669.6 76.0 L670.8 75.8 L672.0 75.3 L673.2 75.3 L674.4 74.5 L675.6 74.2 L676.8 73.7 L678.0 73.1 L679.2 72.8 L680.4 72.2 L681.6 71.9 L682.8 71.7 L684.0 71.2 L685.2 70.4 L686.4 70.1 L687.6 70.8 L688.8 70.4 L690.0 70.5 L691.2 70.3 L692.4 70.2 L693.6 70.0 L694.8 69.3 L696.0 69.2 L697.2 68.7 L698.4 68.1 L699.6 68.1 L700.8 67.9 L702.0 67.9 L703.2 68.1 L704.4 67.7 L705.6 67.4 L706.8 66.8 L708.0 66.6 L709.2 67.1 L710.4 66.5 L711.6 66.3 L712.8 65.9 L714.0 65.7 L715.2 66.0 L716.4 65.0 L717.6 65.0 L718.8 65.2 L720.0 65.6 L721.2 65.6 L722.4 65.8 L723.6 66.4 L724.8 66.3 L726.0 66.2 L727.2 65.8 L728.4 65.3 L729.6 65.3 L730.8 65.0 L732.0 64.6 L733.2 64.9 L734.4 65.0 L735.6 65.1 L736.8 64.9 L738.0 65.4 L739.2 65.9 L740.4 66.2 L741.6 65.8 L742.8 66.5 L744.0 66.1 L745.2 66.2 L746.4 66.0 L747.6 65.2 L748.8 65.0 L750.0 65.3 L751.2 65.9 L752.4 65.9 L753.6 66.0 L754.8 66.1 L756.0 66.1 L757.2 66.0 L758.4 65.1 L759.6 64.7 L760.8 64.4 L762.0 64.2 L763.2 64.2 L764.4 64.6 L765.6 64.9 L766.8 65.1 L768.0 65.1 L769.2 64.9 L770.4 65.4 L771.6 65.5 L772.8 66.1 L774.0 66.4 L775.2 65.9 L776.4 66.1 L777.6 65.5 L778.8 65.0 L780.0 64.7 L781.2 64.9 L782.4 64.7 L783.6 65.1 L784.8 65.4 L786.0 65.6 L787.2 65.7 L788.4 66.3 L789.6 66.7 L790.8 66.7 L792.0 66.6 L793.2 66.0 L794.4 65.6 L795.6 65.9 L796.8 65.7 L798.0 65.5 L799.2 65.4 L800.4 65.5 L801.6 65.9 L802.8 65.8 L804.0 66.0 L805.2 65.2 L806.4 64.6 L807.6 64.2 L808.8 63.9 L810.0 63.8 L811.2 63.9 L812.4 65.1 L813.6 65.5 L814.8 66.2 L816.0 66.1 L817.2 66.3 L818.4 66.1 L819.6 65.3 L820.8 65.3 L822.0 65.9 L823.2 65.9 L824.4 65.4 L825.6 65.6 L826.8 65.5 L828.0 65.6 L829.2 66.2 L830.4 65.9 L831.6 66.6 L832.8 66.1 L834.0 66.0 L835.2 66.2 L836.4 66.1 L837.6 66.2 L838.8 66.4 L840.0 66.5 L841.2 66.6 L842.4 65.9 L843.6 65.9 L844.8 66.0 L846.0 65.6 L847.2 65.5 L848.4 65.3 L849.6 65.9 L850.8 66.6 L852.0 66.4 L853.2 66.5 L854.4 66.3 L855.6 66.1 L856.8 66.0 L858.0 66.1 L859.2 66.5 L860.4 66.7 L861.6 66.2 L862.8 66.5 L864.0 66.4 L865.2 66.7 L866.4 66.7 L867.6 67.3 L868.8 67.4 L870.0 66.7 L871.2 66.8 L872.4 66.6 L873.6 66.1 L874.8 65.6 L876.0 65.4 L877.2 65.7 L878.4 65.9 L879.6 67.0 L880.8 66.7 L882.0 67.1 L883.2 67.7 L884.4 67.7 L885.6 67.1 L886.8 67.5 L888.0 67.0 L889.2 66.8 L890.4 66.3 L891.6 66.4 L892.8 66.6 L894.0 66.8 L895.2 66.9 L896.4 67.2 L897.6 67.0 L898.8 67.0 L900.0 66.8 L901.2 66.3 L902.4 67.2 L903.6 67.1 L904.8 67.7 L906.0 67.6 L907.2 67.7 L908.4 67.6 L909.6 67.5 L910.8 67.7 L912.0 67.7 L913.2 67.6 L914.4 67.6 L915.6 67.0 L916.8 67.4 L918.0 67.1 L919.2 67.1 L920.4 67.7 L921.6 67.1 L922.8 67.0 L924.0 66.5 L925.2 66.4 L926.4 66.3 L927.6 66.6 L928.8 66.8 L930.0 66.6 L931.2 66.6 L932.4 67.0 L933.6 67.1 L934.8 67.4 L936.0 67.4 L937.2 67.7 L938.4 67.4 L939.6 67.1 L940.8 67.5 L942.0 67.3 L943.2 67.9 L944.4 68.4 L945.6 67.9 L946.8 67.6 L948.0 67.2 L949.2 68.0 L950.4 67.8 L951.6 67.6 L952.8 68.1 L954.0 67.5 L955.2 67.5 L956.4 67.2 L957.6 67.2 L958.8 66.8 L960.0 67.7 L961.2 67.1 L962.4 67.4 L963.6 67.5 L964.8 67.1 L966.0 67.4 L967.2 67.3 L968.4 67.2 L969.6 66.7 L970.8 66.7 L972.0 66.8 L973.2 67.4 L974.4 67.1 L975.6 68.3 L976.8 68.1 L978.0 68.2 L979.2 67.3 L980.4 67.6 L981.6 67.9 L982.8 68.2 L984.0 67.7 L985.2 67.9 L986.4 68.3 L987.6 68.3 L988.8 67.9 L990.0 67.8 L991.2 67.9 L992.4 68.4 L993.6 68.9 L994.8 69.4 L996.0 69.0 L997.2 68.8 L998.4 68.5 L999.6 68.5" stroke="#000000"/>
<path d="M158.0 200.0 L160.0 170.0 L161.5 150.0 L162.5 135.0 L163.7 126.4 L164.8 130.3 L166.0 139.6 L167.1 141.6 L168.2 147.6 L169.3 148.9 L170.3 155.9 L171.2 158.4 L172.2 165.6 L173.2 166.0 L174.2 170.6 L175.2 169.7 L176.3 174.6 L177.3 173.6 L178.3 177.4 L179.2 173.9 L180.1 176.7 L181.0 172.9 L182.0 175.5 L182.9 171.4 L183.8 174.3 L184.7 170.4 L185.7 177.0 L186.7 178.2 L187.8 184.9 L188.8 186.2 L189.8 192.9 L190.8 188.5 L191.8 190.8 L192.9 186.4 L193.9 187.1 L194.9 183.1 L195.9 187.0 L196.9 186.2 L198.0 191.6 L199.0 191.5 L200.0 196.1 L200.9 192.3 L201.8 194.3 L202.7 190.1 L203.6 190.8 L204.5 188.0 L205.4 189.1 L206.3 185.4 L207.2 190.9 L208.2 189.2 L209.1 194.1 L210.0 194.3 L211.0 196.4 L212.0 193.8 L213.0 197.9 L214.0 195.3 L215.0 198.7 L215.9 198.2 L216.9 201.8 L217.8 199.2 L218.8 202.9 L219.8 201.6 L220.7 204.4 L221.7 203.7 L222.6 205.9 L223.6 203.9 L224.6 207.9 L225.5 206.3 L226.4 209.6 L227.4 207.5 L228.4 209.8 L229.3 208.1 L230.2 211.4 L231.2 208.3 L232.1 210.6 L233.1 207.4 L234.0 208.8 L234.9 207.6 L235.8 209.7 L236.8 207.1 L237.7 210.6 L238.6 207.4 L239.5 210.7 L240.5 209.8 L241.4 213.3 L242.4 211.4 L243.3 217.0 L244.3 215.0 L245.3 218.8 L246.2 217.6 L247.2 221.8 L248.2 219.6 L249.1 221.4 L250.1 219.7 L251.1 222.4 L252.0 219.7 L253.0 223.8 L254.0 221.3 L255.0 225.3 L256.0 222.7 L257.0 227.1 L258.0 223.9 L259.0 227.7 L260.0 226.0 L267.6 232.8 L268.8 233.3 L270.0 233.4 L271.2 233.7 L272.4 235.0 L273.6 235.6 L274.8 236.5 L276.0 237.2 L277.2 238.0 L278.4 238.5 L279.6 238.1 L280.8 238.9 L282.0 239.0 L283.2 239.3 L284.4 239.9 L285.6 240.5 L286.8 240.3 L288.0 239.7 L289.2 240.2 L290.4 240.7 L291.6 241.1 L292.8 241.6 L294.0 242.0 L295.2 242.9 L296.4 242.6 L297.6 242.6 L298.8 242.6 L300.0 242.6 L301.2 243.3 L302.4 244.0 L303.6 244.4 L304.8 245.2 L306.0 246.0 L307.2 246.8 L308.4 246.8 L309.6 246.8 L310.8 246.5 L312.0 246.3 L313.2 246.4 L314.4 246.0 L315.6 247.1 L316.8 246.9 L318.0 247.2 L319.2 247.9 L320.4 247.7 L321.6 247.8 L322.8 248.0 L324.0 248.1 L325.2 248.9 L326.4 249.4 L327.6 248.9 L328.8 249.8 L330.0 249.8 L331.2 250.3 L332.4 250.9 L333.6 250.8 L334.8 250.7 L336.0 250.4 L337.2 250.4 L338.4 250.3 L339.6 250.5 L340.8 250.3 L342.0 249.9 L343.2 249.9 L344.4 249.4 L345.6 248.7 L346.8 249.6 L348.0 248.5 L349.2 248.0 L350.4 248.1 L351.6 247.3 L352.8 245.9 L354.0 244.8 L355.2 244.0 L356.4 243.9 L357.6 242.8 L358.8 242.0 L360.0 241.6 L361.2 241.0 L362.4 239.4 L363.6 238.7 L364.8 237.4 L366.0 237.3 L367.2 236.3 L368.4 234.9 L369.6 233.6 L370.8 232.6 L372.0 230.7 L373.2 230.1 L374.4 228.4 L375.6 226.8 L376.8 225.3 L378.0 223.7 L379.2 222.2 L380.4 220.7 L381.6 218.5 L382.8 216.2 L384.0 214.5 L385.2 212.0 L386.4 210.3 L387.6 207.7 L388.8 205.0 L390.0 203.4 L391.2 201.6 L392.4 198.7 L393.6 195.9 L394.8 193.6 L396.0 190.9 L397.2 188.3 L398.4 185.7 L399.6 183.5 L400.8 181.3 L402.0 179.0 L403.2 176.7 L404.4 174.6 L405.6 172.5 L406.8 170.2 L408.0 168.1 L409.2 166.6 L410.4 165.8 L411.6 164.0 L412.8 163.3 L414.0 162.5 L415.2 161.2 L416.4 160.6 L417.6 160.3 L418.8 160.3 L420.0 160.0 L421.2 159.8 L422.4 159.0 L423.6 157.9 L424.8 157.5 L426.0 156.2 L427.2 155.4 L428.4 155.4 L429.6 154.5 L430.8 154.2 L432.0 153.7 L433.2 152.6 L434.4 152.4 L435.6 151.4 L436.8 151.7 L438.0 151.6 L439.2 151.8 L440.4 151.4 L441.6 150.7 L442.8 150.3 L444.0 149.8 L445.2 149.5 L446.4 148.7 L447.6 148.5 L448.8 148.0 L450.0 147.7 L451.2 147.0 L452.4 147.0 L453.6 145.8 L454.8 145.6 L456.0 145.0 L457.2 144.6 L458.4 144.1 L459.6 143.3 L460.8 143.1 L462.0 142.1 L463.2 142.0 L464.4 141.6 L465.6 141.5 L466.8 140.5 L468.0 140.1 L469.2 139.7 L470.4 139.7 L471.6 139.5 L472.8 139.4 L474.0 139.7 L475.2 139.0 L476.4 138.5 L477.6 138.6 L478.8 138.4 L480.0 138.6 L481.2 138.4 L482.4 137.1 L483.6 137.6 L484.8 136.9 L486.0 136.5 L487.2 136.4 L488.4 136.5 L489.6 135.6 L490.8 135.1 L492.0 134.7 L493.2 133.9 L494.4 134.1 L495.6 133.6 L496.8 133.3 L498.0 133.1 L499.2 132.3 L500.4 132.5 L501.6 131.6 L502.8 131.8 L504.0 131.4 L505.2 131.9 L506.4 131.7 L507.6 131.9 L508.8 131.1 L510.0 130.2 L511.2 129.6 L512.4 129.3 L513.6 129.0 L514.8 128.4 L516.0 128.3 L517.2 128.6 L518.4 129.0 L519.6 128.6 L520.8 128.3 L522.0 128.4 L523.2 127.6 L524.4 127.1 L525.6 126.3 L526.8 126.1 L528.0 125.9 L529.2 125.5 L530.4 125.9 L531.6 125.5 L532.8 125.0 L534.0 124.8 L535.2 123.8 L536.4 123.3 L537.6 123.1 L538.8 123.1 L540.0 122.8 L541.2 123.1 L542.4 123.2 L543.6 122.2 L544.8 122.0 L546.0 121.6 L547.2 121.6 L548.4 121.4 L549.6 121.0 L550.8 120.3 L552.0 120.2 L553.2 119.5 L554.4 118.8 L555.6 118.5 L556.8 117.8 L558.0 117.2 L559.2 117.6 L560.4 117.6 L561.6 118.0 L562.8 117.5 L564.0 117.7 L565.2 116.9 L566.4 116.4 L567.6 115.7 L568.8 116.8 L570.0 116.5 L571.2 116.7 L572.4 116.6 L573.6 115.5 L574.8 114.5 L576.0 113.2 L577.2 113.3 L578.4 112.8 L579.6 112.8 L580.8 112.2 L582.0 111.2 L583.2 110.5 L584.4 110.4 L585.6 110.6 L586.8 110.4 L588.0 110.2 L589.2 109.3 L590.4 109.0 L591.6 109.2 L592.8 108.9 L594.0 108.6 L595.2 108.5 L596.4 108.2 L597.6 107.9 L598.8 107.7 L600.0 107.6 L601.2 107.1 L602.4 106.5 L603.6 106.7 L604.8 105.8 L606.0 105.5 L607.2 104.9 L608.4 104.7 L609.6 104.4 L610.8 104.1 L612.0 103.5 L613.2 103.1 L614.4 102.7 L615.6 101.7 L616.8 101.1 L618.0 102.3 L619.2 101.6 L620.4 101.1 L621.6 100.0 L622.8 99.5 L624.0 99.4 L625.2 97.5 L626.4 97.6 L627.6 97.2 L628.8 96.5 L630.0 96.4 L631.2 95.7 L632.4 96.1 L633.6 95.0 L634.8 94.7 L636.0 95.0 L637.2 94.9 L638.4 94.0 L639.6 93.6 L640.8 92.4 L642.0 91.6 L643.2 91.7 L644.4 91.3 L645.6 90.7 L646.8 89.6 L648.0 88.9 L649.2 88.3 L650.4 88.2 L651.6 88.1 L652.8 87.8 L654.0 87.2 L655.2 87.5 L656.4 87.4 L657.6 87.6 L658.8 87.5 L660.0 87.0 L661.2 86.9 L662.4 86.1 L663.6 85.6 L664.8 85.3 L666.0 85.3 L667.2 85.3 L668.4 84.5 L669.6 84.8 L670.8 84.4 L672.0 84.4 L673.2 84.1 L674.4 84.1 L675.6 84.2 L676.8 84.4 L678.0 84.6 L679.2 84.4 L680.4 85.3 L681.6 84.2 L682.8 84.2 L684.0 84.4 L685.2 84.4 L686.4 84.7 L687.6 85.0 L688.8 85.2 L690.0 84.6 L691.2 84.9 L692.4 83.4 L693.6 83.4 L694.8 83.5 L696.0 83.7 L697.2 84.3 L698.4 84.5 L699.6 83.6 L700.8 83.3 L702.0 83.3 L703.2 83.5 L704.4 84.2 L705.6 83.9 L706.8 83.8 L708.0 83.5 L709.2 83.5 L710.4 83.6 L711.6 83.4 L712.8 83.5 L714.0 83.2 L715.2 83.0 L716.4 82.6 L717.6 83.2 L718.8 82.9 L720.0 82.7 L721.2 82.2 L722.4 81.7 L723.6 81.6 L724.8 81.7 L726.0 81.6 L727.2 81.8 L728.4 82.2 L729.6 82.2 L730.8 81.7 L732.0 81.9 L733.2 81.9 L734.4 82.1 L735.6 81.8 L736.8 81.9 L738.0 82.0 L739.2 81.8 L740.4 81.7 L741.6 81.7 L742.8 81.6 L744.0 81.4 L745.2 81.1 L746.4 80.8 L747.6 80.6 L748.8 81.5 L750.0 81.4 L751.2 81.6 L752.4 81.9 L753.6 81.6 L754.8 81.7 L756.0 81.8 L757.2 81.8 L758.4 81.4 L759.6 80.6 L760.8 81.2 L762.0 81.4 L763.2 81.4 L764.4 81.2 L765.6 81.4 L766.8 81.1 L768.0 81.2 L769.2 81.5 L770.4 81.1 L771.6 81.6 L772.8 81.2 L774.0 80.3 L775.2 80.3 L776.4 80.3 L777.6 80.2 L778.8 80.8 L780.0 80.8 L781.2 80.8 L782.4 80.4 L783.6 80.3 L784.8 79.6 L786.0 80.1 L787.2 80.1 L788.4 80.7 L789.6 81.0 L790.8 80.7 L792.0 80.2 L793.2 80.0 L794.4 80.4 L795.6 79.8 L796.8 80.7 L798.0 80.6 L799.2 81.0 L800.4 81.3 L801.6 80.9 L802.8 81.0 L804.0 81.1 L805.2 80.6 L806.4 80.9 L807.6 80.8 L808.8 80.1 L810.0 80.5 L811.2 80.4 L812.4 81.1 L813.6 80.5 L814.8 81.0 L816.0 80.2 L817.2 80.4 L818.4 79.8 L819.6 79.7 L820.8 79.6 L822.0 79.6 L823.2 79.7 L824.4 79.9 L825.6 79.8 L826.8 79.9 L828.0 80.0 L829.2 81.0 L830.4 81.3 L831.6 81.1 L832.8 80.7 L834.0 80.2 L835.2 79.9 L836.4 80.0 L837.6 80.5 L838.8 79.9 L840.0 80.8 L841.2 80.3 L842.4 80.4 L843.6 80.6 L844.8 80.6 L846.0 80.3 L847.2 80.1 L848.4 79.9 L849.6 79.5 L850.8 80.0 L852.0 79.2 L853.2 79.2 L854.4 79.4 L855.6 80.0 L856.8 80.2 L858.0 80.8 L859.2 81.1 L860.4 80.6 L861.6 80.8 L862.8 80.6 L864.0 80.9 L865.2 80.7 L866.4 80.8 L867.6 80.9 L868.8 80.6 L870.0 81.5 L871.2 81.3 L872.4 81.3 L873.6 81.6 L874.8 81.1 L876.0 80.8 L877.2 81.5 L878.4 81.1 L879.6 81.3 L880.8 81.3 L882.0 81.4 L883.2 80.8 L884.4 79.8 L885.6 80.2 L886.8 80.6 L888.0 80.4 L889.2 79.9 L890.4 80.0 L891.6 80.1 L892.8 80.4 L894.0 80.4 L895.2 80.1 L896.4 80.6 L897.6 80.6 L898.8 80.1 L900.0 80.3 L901.2 80.5 L902.4 80.5 L903.6 80.8 L904.8 80.9 L906.0 80.8 L907.2 80.7 L908.4 80.2 L909.6 80.7 L910.8 80.9 L912.0 81.2 L913.2 80.9 L914.4 81.2 L915.6 81.9 L916.8 81.7 L918.0 81.1 L919.2 80.7 L920.4 79.6 L921.6 80.0 L922.8 80.0 L924.0 80.8 L925.2 81.5 L926.4 81.4 L927.6 80.6 L928.8 80.3 L930.0 80.0 L931.2 79.8 L932.4 80.1 L933.6 80.5 L934.8 80.8 L936.0 81.3 L937.2 80.8 L938.4 81.2 L939.6 81.2 L940.8 80.8 L942.0 80.6 L943.2 80.8 L944.4 80.6 L945.6 81.6 L946.8 81.0 L948.0 81.0 L949.2 81.0 L950.4 81.3 L951.6 80.4 L952.8 80.5 L954.0 80.3 L955.2 80.6 L956.4 80.9 L957.6 81.5 L958.8 81.0 L960.0 81.6 L961.2 82.1 L962.4 81.7 L963.6 82.0 L964.8 81.8 L966.0 81.1 L967.2 81.5 L968.4 81.8 L969.6 81.4 L970.8 81.4 L972.0 82.3 L973.2 82.3 L974.4 82.6 L975.6 82.7 L976.8 82.3 L978.0 82.6 L979.2 82.3 L980.4 83.1 L981.6 83.0 L982.8 83.6 L984.0 83.5 L985.2 83.1 L986.4 83.1 L987.6 82.5 L988.8 81.9 L990.0 82.3 L991.2 82.2 L992.4 82.0 L993.6 82.6 L994.8 82.3 L996.0 82.5 L997.2 82.3 L998.4 82.1 L999.6 83.2" stroke="#00ff00"/>
<path d="M155.0 418.4 L156.0 403.5 L157.0 393.3 L158.0 378.9 L159.0 373.6 L160.0 363.5 L161.3 359.0 L162.6 349.7 L164.0 365.9 L165.0 371.0 L166.0 381.0 L167.0 374.1 L168.0 371.9 L169.0 381.4 L170.0 396.0 L171.4 414.3 L173.0 386.3 L174.2 391.4 L175.4 401.4 L177.0 369.0 L178.0 376.3 L179.0 379.2 L180.0 385.7 L181.1 381.3 L182.3 383.0 L183.4 378.3 L184.7 376.6 L186.0 370.5 L187.0 376.1 L188.0 375.9 L189.0 382.0 L190.0 376.4 L191.0 376.9 L192.0 371.3 L193.0 372.0 L194.0 375.5 L195.0 386.2 L196.3 387.4 L197.7 394.2 L198.8 385.7 L199.9 383.5 L201.0 376.7 L202.0 379.7 L203.1 378.2 L204.1 382.0 L205.1 385.4 L206.0 393.0 L207.0 392.6 L208.0 397.5 L209.0 397.5 L209.9 398.3 L210.9 393.0 L211.8 393.9 L212.8 387.9 L213.7 388.7 L214.8 388.1 L215.9 392.4 L217.0 390.6 L217.9 393.8 L218.9 392.7 L219.8 395.3 L220.8 394.2 L221.7 397.0 L222.6 395.3 L223.5 398.3 L224.4 397.3 L225.4 400.8 L226.3 398.2 L227.2 401.6 L228.1 400.6 L229.1 402.8 L230.1 401.6 L231.1 404.4 L232.0 401.6 L233.0 404.2 L234.0 401.1 L235.0 404.8 L236.0 402.5 L237.0 405.4 L237.9 402.4 L238.9 405.9 L239.9 403.6 L240.9 406.7 L241.9 403.7 L242.9 405.7 L243.9 403.4 L244.9 406.2 L245.9 403.3 L246.9 404.5 L247.9 402.7 L248.9 404.3 L249.9 403.0 L250.9 406.6 L251.9 403.4 L252.9 406.8 L253.9 405.5 L254.9 408.3 L255.9 405.8 L256.9 409.3 L257.9 406.3 L258.9 409.1 L259.9 405.5 L261.0 408.0 L262.0 404.8 L263.0 408.3 L264.0 404.8 L265.0 408.0 L266.0 404.5 L267.0 407.1 L268.0 405.1 L268.9 407.3 L269.9 404.6 L270.9 407.5 L271.9 404.8 L272.9 407.7 L272.9 405.5 L274.1 406.9 L275.3 407.4 L276.5 408.5 L277.7 409.3 L278.9 409.7 L280.1 409.9 L281.3 410.9 L282.5 410.0 L283.7 409.7 L284.9 409.8 L286.1 408.7 L287.3 409.1 L288.5 408.4 L289.7 408.1 L290.9 407.7 L292.1 407.2 L293.3 406.5 L294.5 406.6 L295.7 407.0 L296.9 407.2 L298.1 407.6 L299.3 407.4 L300.5 407.2 L301.7 407.4 L302.9 407.6 L304.1 407.6 L305.3 407.7 L306.5 407.4 L307.7 407.9 L308.9 406.4 L310.1 405.6 L311.3 404.9 L312.5 404.3 L313.7 403.1 L314.9 402.8 L316.1 402.1 L317.3 401.3 L318.5 401.2 L319.7 400.2 L320.9 399.8 L322.1 399.2 L323.3 397.9 L324.5 396.8 L325.7 395.9 L326.9 394.8 L328.1 394.0 L329.3 392.4 L330.5 391.6 L331.7 391.2 L332.9 389.8 L334.1 388.6 L335.3 387.1 L336.5 385.4 L337.7 383.7 L338.9 382.1 L340.1 380.3 L341.3 378.4 L342.5 376.7 L343.7 374.6 L344.9 373.6 L346.1 371.6 L347.3 369.6 L348.5 367.7 L349.7 365.0 L350.9 362.6 L352.1 359.7 L353.3 356.9 L354.5 354.1 L355.7 351.3 L356.9 348.3 L358.1 345.6 L359.3 341.9 L360.5 338.6 L361.7 335.5 L362.9 333.1 L364.1 329.6 L365.3 326.8 L366.5 323.6 L367.7 320.6 L368.9 316.5 L370.1 313.2 L371.3 309.2 L372.5 305.3 L373.7 301.7 L374.9 298.0 L376.1 294.5 L377.3 291.8 L378.5 288.2 L379.7 285.4 L380.9 282.2 L382.1 279.2 L383.3 276.3 L384.5 273.6 L385.7 271.4 L386.9 268.9 L388.1 266.5 L389.3 264.6 L390.5 262.6 L391.7 260.6 L392.9 258.5 L394.1 257.5 L395.3 256.3 L396.5 255.2 L397.7 253.9 L398.9 253.1 L400.1 251.7 L401.3 251.2 L402.5 249.7 L403.7 247.9 L404.9 246.2 L406.1 244.7 L407.3 243.4 L408.5 243.1 L409.7 241.8 L410.9 241.1 L412.1 239.9 L413.3 238.3 L414.5 237.2 L415.7 236.4 L416.9 235.6 L418.1 234.5 L419.3 234.1 L420.5 233.3 L421.7 232.5 L422.9 231.2 L424.1 229.9 L425.3 229.9 L426.5 228.8 L427.7 227.0 L428.9 226.2 L430.1 224.4 L431.3 223.2 L432.5 222.6 L433.7 221.2 L434.9 221.1 L436.1 220.5 L437.3 219.2 L438.5 218.7 L439.7 216.8 L440.9 216.2 L442.1 214.9 L443.3 214.6 L444.5 212.9 L445.7 211.4 L446.9 210.7 L448.1 208.6 L449.3 207.9 L450.5 206.7 L451.7 206.2 L452.9 205.0 L454.1 204.3 L455.3 203.2 L456.5 202.1 L457.7 201.2 L458.9 201.5 L460.1 200.3 L461.3 199.5 L462.5 198.7 L463.7 198.3 L464.9 196.9 L466.1 196.6 L467.3 195.0 L468.5 193.9 L469.7 193.0 L470.9 192.0 L472.1 191.0 L473.3 190.8 L474.5 190.3 L475.7 189.9 L476.9 188.6 L478.1 187.8 L479.3 187.2 L480.5 186.2 L481.7 185.1 L482.9 185.2 L484.1 185.2 L485.3 184.5 L486.5 184.7 L487.7 183.6 L488.9 182.8 L490.1 181.5 L491.3 180.4 L492.5 179.4 L493.7 178.8 L494.9 177.9 L496.1 177.7 L497.3 176.3 L498.5 176.1 L499.7 175.2 L500.9 174.1 L502.1 173.6 L503.3 172.7 L504.5 172.1 L505.7 171.2 L506.9 170.7 L508.1 169.5 L509.3 169.2 L510.5 168.1 L511.7 167.5 L512.9 166.3 L514.1 165.5 L515.3 164.8 L516.5 164.2 L517.7 163.4 L518.9 163.0 L520.1 162.5 L521.3 161.5 L522.5 160.8 L523.7 159.7 L524.9 158.9 L526.1 157.6 L527.3 157.5 L528.5 156.4 L529.7 156.0 L530.9 154.7 L532.1 154.2 L533.3 153.2 L534.5 152.7 L535.7 151.8 L536.9 150.2 L538.1 149.7 L539.3 147.7 L540.5 147.4 L541.7 146.1 L542.9 145.6 L544.1 145.9 L545.3 145.3 L546.5 144.5 L547.7 143.4 L548.9 142.6 L550.1 141.1 L551.3 140.2 L552.5 140.3 L553.7 139.1 L554.9 139.2 L556.1 139.0 L557.3 138.5 L558.5 137.9 L559.7 136.1 L560.9 135.9 L562.1 135.7 L563.3 134.5 L564.5 134.7 L565.7 133.8 L566.9 133.0 L568.1 132.7 L569.3 132.3 L570.5 130.5 L571.7 130.0 L572.9 129.3 L574.1 129.1 L575.3 129.2 L576.5 129.1 L577.7 128.3 L578.9 127.7 L580.1 127.4 L581.3 125.6 L582.5 124.8 L583.7 124.6 L584.9 123.8 L586.1 122.7 L587.3 122.9 L588.5 122.0 L589.7 121.6 L590.9 122.1 L592.1 121.8 L593.3 121.9 L594.5 120.2 L595.7 119.5 L596.9 119.1 L598.1 118.0 L599.3 116.9 L600.5 115.6 L601.7 114.2 L602.9 113.7 L604.1 113.7 L605.3 113.3 L606.5 112.5 L607.7 112.3 L608.9 111.4 L610.1 110.6 L611.3 110.2 L612.5 109.8 L613.7 109.9 L614.9 108.5 L616.1 107.5 L617.3 107.3 L618.5 106.8 L619.7 107.0 L620.9 105.9 L622.1 105.6 L623.3 105.8 L624.5 105.3 L625.7 104.9 L626.9 104.8 L628.1 103.7 L629.3 103.5 L630.5 102.4 L631.7 101.6 L632.9 101.8 L634.1 101.4 L635.3 101.3 L636.5 101.3 L637.7 100.2 L638.9 99.5 L640.1 98.8 L641.3 97.4 L642.5 97.3 L643.7 97.1 L644.9 96.7 L646.1 96.6 L647.3 96.7 L648.5 96.1 L649.7 96.5 L650.9 96.2 L652.1 95.8 L653.3 95.2 L654.5 94.7 L655.7 93.5 L656.9 93.3 L658.1 92.4 L659.3 91.8 L660.5 91.3 L661.7 91.2 L662.9 90.5 L664.1 90.6 L665.3 90.3 L666.5 89.3 L667.7 88.4 L668.9 87.7 L670.1 87.0 L671.3 86.5 L672.5 86.2 L673.7 86.2 L674.9 85.9 L676.1 85.3 L677.3 84.9 L678.5 84.2 L679.7 84.5 L680.9 84.2 L682.1 83.6 L683.3 83.5 L684.5 83.2 L685.7 82.1 L686.9 82.3 L688.1 81.7 L689.3 81.1 L690.5 80.6 L691.7 80.6 L692.9 80.7 L694.1 81.0 L695.3 80.5 L696.5 80.1 L697.7 79.5 L698.9 78.7 L700.1 78.9 L701.3 78.6 L702.5 78.9 L703.7 79.2 L704.9 78.8 L706.1 78.5 L707.3 77.9 L708.5 77.5 L709.7 76.7 L710.9 76.1 L712.1 76.4 L713.3 76.7 L714.5 76.4 L715.7 76.6 L716.9 76.3 L718.1 76.7 L719.3 77.3 L720.5 77.0 L721.7 77.5 L722.9 77.0 L724.1 76.5 L725.3 75.9 L726.5 76.2 L727.7 76.2 L728.9 75.5 L730.1 75.8 L731.3 76.3 L732.5 75.4 L733.7 75.2 L734.9 74.1 L736.1 73.8 L737.3 73.9 L738.5 73.2 L739.7 73.2 L740.9 73.3 L742.1 74.0 L743.3 74.0 L744.5 74.4 L745.7 74.3 L746.9 73.8 L748.1 72.9 L749.3 73.2 L750.5 72.9 L751.7 72.9 L752.9 72.9 L754.1 72.9 L755.3 72.7 L756.5 72.3 L757.7 72.0 L758.9 72.3 L760.1 72.2 L761.3 72.3 L762.5 72.4 L763.7 72.9 L764.9 72.1 L766.1 72.4 L767.3 71.9 L768.5 72.0 L769.7 71.6 L770.9 71.2 L772.1 70.8 L773.3 70.9 L774.5 71.5 L775.7 71.9 L776.9 72.4 L778.1 72.5 L779.3 72.6 L780.5 72.2 L781.7 72.1 L782.9 71.7 L784.1 72.0 L785.3 72.0 L786.5 72.5 L787.7 72.2 L788.9 72.3 L790.1 72.1 L791.3 70.8 L792.5 70.6 L793.7 70.6 L794.9 70.8 L796.1 70.6 L797.3 70.3 L798.5 69.9 L799.7 69.6 L800.9 70.0 L802.1 70.5 L803.3 70.8 L804.5 70.9 L805.7 70.5 L806.9 70.5 L808.1 70.5 L809.3 70.4 L810.5 71.3 L811.7 71.1 L812.9 71.7 L814.1 71.6 L815.3 71.3 L816.5 70.9 L817.7 71.2 L818.9 70.9 L820.1 71.3 L821.3 72.0 L822.5 71.5 L823.7 71.9 L824.9 71.5 L826.1 72.2 L827.3 72.4 L828.5 72.1 L829.7 71.8 L830.9 72.4 L832.1 72.0 L833.3 72.0 L834.5 71.9 L835.7 71.0 L836.9 70.6 L838.1 70.3 L839.3 69.9 L840.5 69.6 L841.7 69.6 L842.9 69.8 L844.1 69.6 L845.3 69.5 L846.5 70.3 L847.7 69.8 L848.9 70.3 L850.1 70.8 L851.3 70.6 L852.5 71.1 L853.7 70.9 L854.9 70.8 L856.1 71.0 L857.3 71.0 L858.5 71.1 L859.7 71.0 L860.9 71.0 L862.1 71.4 L863.3 70.8 L864.5 70.7 L865.7 70.3 L866.9 69.0 L868.1 68.8 L869.3 69.3 L870.5 69.1 L871.7 69.8 L872.9 69.3 L874.1 69.3 L875.3 69.1 L876.5 68.8 L877.7 68.7 L878.9 68.1 L880.1 68.7 L881.3 69.3 L882.5 70.0 L883.7 69.2 L884.9 70.1 L886.1 70.2 L887.3 70.4 L888.5 67.9 L889.7 68.5 L890.9 70.3 L892.1 68.9 L893.3 70.3 L894.5 68.4 L895.7 69.1 L896.9 70.2 L898.1 71.1 L899.3 70.9 L900.5 68.2 L901.7 67.9 L902.9 68.7 L904.1 70.3 L905.3 69.6 L906.5 69.6 L907.7 69.1 L908.9 68.1 L910.1 67.6 L911.3 66.6 L912.5 68.2 L913.7 66.4 L914.9 67.4 L916.1 67.7 L917.3 69.1 L918.5 67.3 L919.7 69.8 L920.9 67.8 L922.1 69.7 L923.3 67.9 L924.5 68.0 L925.7 66.9 L926.9 67.0 L928.1 67.5 L929.3 68.0 L930.5 70.3 L931.7 67.6 L932.9 68.9 L934.1 69.8 L935.3 67.9 L936.5 67.2 L937.7 70.2 L938.9 68.1 L940.1 68.6 L941.3 69.5 L942.5 69.4 L943.7 68.7 L944.9 67.9 L946.1 69.5 L947.3 68.5 L948.5 70.2 L949.7 66.8 L950.9 68.1 L952.1 67.9 L953.3 68.9 L954.5 69.0 L955.7 69.1 L956.9 70.5 L958.1 67.9 L959.3 68.7 L960.5 68.8 L961.7 67.7 L962.9 69.8 L964.1 66.1 L965.3 69.9 L966.5 67.0 L967.7 68.4 L968.9 68.5 L970.1 68.7 L971.3 69.0 L972.5 70.6 L973.7 71.2 L974.9 69.5 L976.1 68.8 L977.3 67.7 L978.5 67.6 L979.7 69.8 L980.9 69.8 L982.1 69.9 L983.3 70.1 L984.5 70.3 L985.7 67.9 L986.9 68.1 L988.1 67.8 L989.3 68.3 L990.5 67.6 L991.7 67.9 L992.9 67.2 L994.1 68.3 L995.3 69.1 L996.5 68.8 L997.7 65.7 L998.9 68.4" stroke="#ff8000"/>
</g>
<g stroke="#555555" stroke-width="3" fill="none">
<line x1="141" y1="5" x2="1001.5" y2="5" stroke="#777" stroke-width="3.6"/>
<line x1="148" y1="5" x2="148" y2="677"/>
<line x1="1001.5" y1="5" x2="1001.5" y2="677"/>
<line x1="134" y1="677" x2="1001.5" y2="677"/>
<line x1="134" y1="56.3" x2="148" y2="56.3"/><line x1="134" y1="159.8" x2="148" y2="159.8"/><line x1="134" y1="263.3" x2="148" y2="263.3"/><line x1="134" y1="366.8" x2="148" y2="366.8"/><line x1="134" y1="470.3" x2="148" y2="470.3"/><line x1="134" y1="573.8" x2="148" y2="573.8"/><line x1="134" y1="677.3" x2="148" y2="677.3"/><line x1="141" y1="108.0" x2="148" y2="108.0"/><line x1="141" y1="211.6" x2="148" y2="211.6"/><line x1="141" y1="315.1" x2="148" y2="315.1"/><line x1="141" y1="418.6" x2="148" y2="418.6"/><line x1="141" y1="522.0" x2="148" y2="522.0"/><line x1="141" y1="625.5" x2="148" y2="625.5"/><line x1="290.0" y1="677" x2="290.0" y2="689"/><line x1="467.5" y1="677" x2="467.5" y2="689"/><line x1="645.0" y1="677" x2="645.0" y2="689"/><line x1="822.5" y1="677" x2="822.5" y2="689"/><line x1="1000.0" y1="677" x2="1000.0" y2="689"/><line x1="201.2" y1="677" x2="201.2" y2="684"/><line x1="378.8" y1="677" x2="378.8" y2="684"/><line x1="556.2" y1="677" x2="556.2" y2="684"/><line x1="733.8" y1="677" x2="733.8" y2="684"/><line x1="911.2" y1="677" x2="911.2" y2="684"/>
</g>
<g clip-path="url(#pc2)">
<polygon points="148.3,155.5 161.0,155.5 163.0,170.0 164.0,224.0 148.3,224.0" fill="#00ff00" stroke="#00ff00" stroke-width="1"/>
<polygon points="163.5,178.0 168.0,186.0 170.0,200.0 170.0,224.0 163.5,224.0" fill="#000000" stroke="#000000" stroke-width="1"/>
<polygon points="154.5,245.0 160.0,232.0 164.0,222.0 167.0,235.0 168.0,283.0 154.5,283.0 154.5,274.0 147.3,274.0 147.3,285.0 154.5,285.0" fill="#ff00ff" stroke="#ff00ff" stroke-width="1"/>
<polygon points="147.3,224.0 156.0,224.0 156.0,240.0 154.5,246.0 154.5,274.0 147.3,274.0" fill="#00ffff" stroke="#00ffff" stroke-width="1"/>
<polygon points="147.3,285.0 156.0,285.0 156.0,400.0 155.5,419.0 154.0,419.0 147.3,395.0" fill="#ff8000" stroke="#ff8000" stroke-width="1"/>
<polygon points="146.3,396.0 153.0,396.0 157.0,425.0 158.0,470.0 157.5,535.0 155.5,535.0 146.3,499.0" fill="#0000ff" stroke="#0000ff" stroke-width="1"/>
</g>
<g class="ser" font-size="42">
<text transform="translate(125.5,68.5) scale(1,1.05)" text-anchor="end">100</text><text transform="translate(125.5,172.0) scale(1,1.05)" text-anchor="end">95</text><text transform="translate(125.5,275.5) scale(1,1.05)" text-anchor="end">90</text><text transform="translate(125.5,379.0) scale(1,1.05)" text-anchor="end">85</text><text transform="translate(125.5,482.5) scale(1,1.05)" text-anchor="end">80</text><text transform="translate(125.5,586.0) scale(1,1.05)" text-anchor="end">75</text><text transform="translate(125.5,689.5) scale(1,1.05)" text-anchor="end">70</text>
<text transform="translate(289.7,733.5) scale(1.02,1)" text-anchor="middle">450</text><text transform="translate(468.5,733.5) scale(1.02,1)" text-anchor="middle">550</text><text transform="translate(644.4,736.5) scale(1.02,1)" text-anchor="middle">650</text><text transform="translate(828.4,733.5) scale(1.02,1)" text-anchor="middle">750</text><text transform="translate(986.4,733.5) scale(1.02,1)" text-anchor="middle">850</text>
</g>
<text class="ser" fill="#2e2e2e" style="fill:#2e2e2e" font-size="44" transform="translate(577.5,800) scale(1.035,1)" text-anchor="middle">Wavelength (nm)</text>
<text class="ser" style="fill:#2e2e2e" font-size="44" transform="translate(33.5,324) rotate(-90)" text-anchor="middle">Reflectance (%)</text>
<g class="lab" font-size="35">
<text transform="translate(506,57.5) scale(1.03,1)" fill="#000">undoped</text>
<text x="667" y="57.5" fill="#000" font-family="Liberation Serif" font-weight="normal" font-size="37">β</text>
<text x="686" y="57.5" fill="#000" font-weight="normal">–</text>
<text transform="translate(705,57.5) scale(1.03,1)" fill="#000">PbO</text>
<text transform="translate(176,157.5) scale(1.03,1)" fill="#00ff00">Li-doped</text>
<text transform="translate(560,176.3) scale(1.03,1)" fill="#ff8000">Sn-doped</text>
<text transform="translate(549,276.4) scale(1.03,1)" fill="#ff00ff">Ni-doped</text>
<text transform="translate(545,428.3) scale(1.03,1)" fill="#00ffff">Cu-doped</text>
<text transform="translate(675,535.2) scale(1.03,1)" fill="#0000ff">Co-doped</text>
</g>
</svg>
</body></html>
